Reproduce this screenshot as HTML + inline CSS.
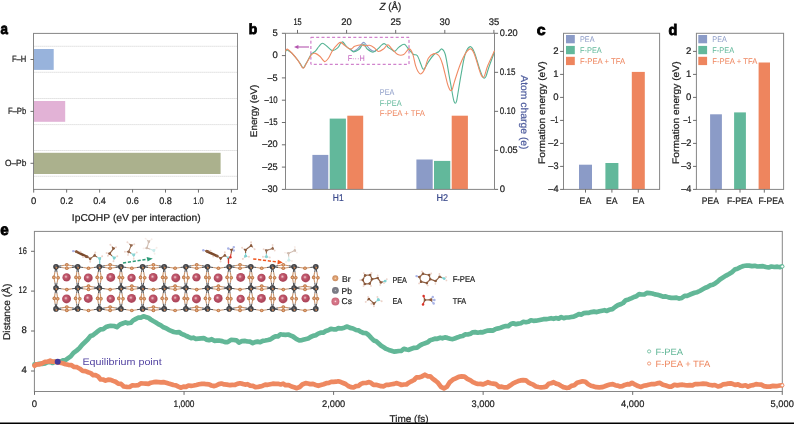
<!DOCTYPE html>
<html><head><meta charset="utf-8"><title>Figure</title>
<style>html,body{margin:0;padding:0;background:#fff;}svg{display:block;will-change:transform;text-rendering:geometricPrecision;font-family:"Liberation Sans",sans-serif;}</style>
</head><body>
<svg width="794" height="424" viewBox="0 0 794 424" font-family="Liberation Sans, sans-serif">
<rect x="0" y="0" width="794" height="424" fill="#fff"/>
<line x1="33.50" y1="46.30" x2="237.50" y2="46.30" stroke="#c4c4c4" stroke-width="0.7" stroke-dasharray="1.2,0.8"/>
<line x1="33.50" y1="72.30" x2="237.50" y2="72.30" stroke="#c4c4c4" stroke-width="0.7" stroke-dasharray="1.2,0.8"/>
<line x1="33.50" y1="98.50" x2="237.50" y2="98.50" stroke="#c4c4c4" stroke-width="0.7" stroke-dasharray="1.2,0.8"/>
<line x1="33.50" y1="124.60" x2="237.50" y2="124.60" stroke="#c4c4c4" stroke-width="0.7" stroke-dasharray="1.2,0.8"/>
<line x1="33.50" y1="150.50" x2="237.50" y2="150.50" stroke="#c4c4c4" stroke-width="0.7" stroke-dasharray="1.2,0.8"/>
<line x1="33.50" y1="176.30" x2="237.50" y2="176.30" stroke="#c4c4c4" stroke-width="0.7" stroke-dasharray="1.2,0.8"/>
<rect x="33.50" y="49.00" width="20.20" height="20.90" fill="#98b3dc" />
<rect x="33.50" y="101.00" width="31.70" height="20.80" fill="#e2b2d6" />
<rect x="33.50" y="152.80" width="187.10" height="21.20" fill="#abb18d" />
<rect x="33.50" y="33.40" width="204.00" height="156.00" fill="none" stroke="#868686" stroke-width="1"/>
<line x1="30.50" y1="59.50" x2="33.50" y2="59.50" stroke="#5c5c5c" stroke-width="0.9" />
<text x="26.30" y="62.30" font-size="9" text-anchor="end" fill="#222"  stroke="#222" stroke-width="0.22" textLength="14.4" lengthAdjust="spacingAndGlyphs">F–H</text>
<line x1="30.50" y1="111.40" x2="33.50" y2="111.40" stroke="#5c5c5c" stroke-width="0.9" />
<text x="26.30" y="114.20" font-size="9" text-anchor="end" fill="#222"  stroke="#222" stroke-width="0.22" textLength="18.4" lengthAdjust="spacingAndGlyphs">F–Pb</text>
<line x1="30.50" y1="163.30" x2="33.50" y2="163.30" stroke="#5c5c5c" stroke-width="0.9" />
<text x="26.30" y="166.10" font-size="9" text-anchor="end" fill="#222"  stroke="#222" stroke-width="0.22" textLength="21.4" lengthAdjust="spacingAndGlyphs">O–Pb</text>
<line x1="33.70" y1="189.40" x2="33.70" y2="192.60" stroke="#5c5c5c" stroke-width="0.9" />
<text x="33.70" y="203.50" font-size="9.5" text-anchor="middle" fill="#222"  stroke="#222" stroke-width="0.22">0</text>
<line x1="66.65" y1="189.40" x2="66.65" y2="192.60" stroke="#5c5c5c" stroke-width="0.9" />
<text x="66.65" y="203.50" font-size="9.5" text-anchor="middle" fill="#222"  stroke="#222" stroke-width="0.22" textLength="12.7" lengthAdjust="spacingAndGlyphs">0.2</text>
<line x1="99.60" y1="189.40" x2="99.60" y2="192.60" stroke="#5c5c5c" stroke-width="0.9" />
<text x="99.60" y="203.50" font-size="9.5" text-anchor="middle" fill="#222"  stroke="#222" stroke-width="0.22" textLength="12.7" lengthAdjust="spacingAndGlyphs">0.4</text>
<line x1="132.55" y1="189.40" x2="132.55" y2="192.60" stroke="#5c5c5c" stroke-width="0.9" />
<text x="132.55" y="203.50" font-size="9.5" text-anchor="middle" fill="#222"  stroke="#222" stroke-width="0.22" textLength="12.7" lengthAdjust="spacingAndGlyphs">0.6</text>
<line x1="165.50" y1="189.40" x2="165.50" y2="192.60" stroke="#5c5c5c" stroke-width="0.9" />
<text x="165.50" y="203.50" font-size="9.5" text-anchor="middle" fill="#222"  stroke="#222" stroke-width="0.22" textLength="12.7" lengthAdjust="spacingAndGlyphs">0.8</text>
<line x1="198.45" y1="189.40" x2="198.45" y2="192.60" stroke="#5c5c5c" stroke-width="0.9" />
<text x="198.45" y="203.50" font-size="9.5" text-anchor="middle" fill="#222"  stroke="#222" stroke-width="0.22" textLength="10.3" lengthAdjust="spacingAndGlyphs">1.0</text>
<line x1="231.40" y1="189.40" x2="231.40" y2="192.60" stroke="#5c5c5c" stroke-width="0.9" />
<text x="231.40" y="203.50" font-size="9.5" text-anchor="middle" fill="#222"  stroke="#222" stroke-width="0.22" textLength="10.3" lengthAdjust="spacingAndGlyphs">1.2</text>
<text x="136.20" y="220.60" font-size="10" text-anchor="middle" fill="#222"  stroke="#222" stroke-width="0.22" textLength="128.8" lengthAdjust="spacingAndGlyphs">IpCOHP (eV per interaction)</text>
<text x="0.50" y="34.30" font-size="15.5" text-anchor="start" fill="#000" font-weight="bold" stroke="#000" stroke-width="0.85" textLength="7.4" lengthAdjust="spacingAndGlyphs">a</text>
<rect x="312.40" y="154.90" width="15.90" height="34.50" fill="#8b9bc7" />
<rect x="329.70" y="118.60" width="16.20" height="70.80" fill="#62b89b" />
<rect x="347.30" y="115.70" width="15.90" height="73.70" fill="#ee855e" />
<rect x="416.40" y="159.50" width="16.30" height="29.90" fill="#8b9bc7" />
<rect x="434.00" y="160.90" width="16.30" height="28.50" fill="#62b89b" />
<rect x="451.70" y="115.70" width="16.20" height="73.70" fill="#ee855e" />
<line x1="285.50" y1="33.30" x2="285.50" y2="189.40" stroke="#868686" stroke-width="1" />
<line x1="494.50" y1="33.30" x2="494.50" y2="189.40" stroke="#868686" stroke-width="1" />
<line x1="285.50" y1="33.30" x2="494.50" y2="33.30" stroke="#868686" stroke-width="1" />
<line x1="285.50" y1="189.40" x2="494.50" y2="189.40" stroke="#868686" stroke-width="1" />
<line x1="281.90" y1="33.30" x2="285.50" y2="33.30" stroke="#5c5c5c" stroke-width="0.9" />
<text x="277.70" y="35.90" font-size="9.5" text-anchor="end" fill="#222"  stroke="#222" stroke-width="0.22">5</text>
<line x1="281.90" y1="55.60" x2="285.50" y2="55.60" stroke="#5c5c5c" stroke-width="0.9" />
<text x="277.70" y="58.20" font-size="9.5" text-anchor="end" fill="#222"  stroke="#222" stroke-width="0.22">0</text>
<line x1="281.90" y1="77.90" x2="285.50" y2="77.90" stroke="#5c5c5c" stroke-width="0.9" />
<text x="277.70" y="80.50" font-size="9.5" text-anchor="end" fill="#222"  stroke="#222" stroke-width="0.22" textLength="10.2" lengthAdjust="spacingAndGlyphs">–5</text>
<line x1="281.90" y1="100.20" x2="285.50" y2="100.20" stroke="#5c5c5c" stroke-width="0.9" />
<text x="277.70" y="102.80" font-size="9.5" text-anchor="end" fill="#222"  stroke="#222" stroke-width="0.22" textLength="13.1" lengthAdjust="spacingAndGlyphs">–10</text>
<line x1="281.90" y1="122.50" x2="285.50" y2="122.50" stroke="#5c5c5c" stroke-width="0.9" />
<text x="277.70" y="125.10" font-size="9.5" text-anchor="end" fill="#222"  stroke="#222" stroke-width="0.22" textLength="13.1" lengthAdjust="spacingAndGlyphs">–15</text>
<line x1="281.90" y1="144.80" x2="285.50" y2="144.80" stroke="#5c5c5c" stroke-width="0.9" />
<text x="277.70" y="147.40" font-size="9.5" text-anchor="end" fill="#222"  stroke="#222" stroke-width="0.22" textLength="15.4" lengthAdjust="spacingAndGlyphs">–20</text>
<line x1="281.90" y1="167.10" x2="285.50" y2="167.10" stroke="#5c5c5c" stroke-width="0.9" />
<text x="277.70" y="169.70" font-size="9.5" text-anchor="end" fill="#222"  stroke="#222" stroke-width="0.22" textLength="15.4" lengthAdjust="spacingAndGlyphs">–25</text>
<line x1="281.90" y1="189.40" x2="285.50" y2="189.40" stroke="#5c5c5c" stroke-width="0.9" />
<text x="277.70" y="192.00" font-size="9.5" text-anchor="end" fill="#222"  stroke="#222" stroke-width="0.22" textLength="15.4" lengthAdjust="spacingAndGlyphs">–30</text>
<line x1="494.50" y1="33.30" x2="498.10" y2="33.30" stroke="#5c5c5c" stroke-width="0.9" />
<text x="499.80" y="36.20" font-size="9.5" text-anchor="start" fill="#222"  stroke="#222" stroke-width="0.22" textLength="17.9" lengthAdjust="spacingAndGlyphs">0.20</text>
<line x1="494.50" y1="72.33" x2="498.10" y2="72.33" stroke="#5c5c5c" stroke-width="0.9" />
<text x="499.80" y="75.23" font-size="9.5" text-anchor="start" fill="#222"  stroke="#222" stroke-width="0.22" textLength="15.6" lengthAdjust="spacingAndGlyphs">0.15</text>
<line x1="494.50" y1="111.35" x2="498.10" y2="111.35" stroke="#5c5c5c" stroke-width="0.9" />
<text x="499.80" y="114.25" font-size="9.5" text-anchor="start" fill="#222"  stroke="#222" stroke-width="0.22" textLength="15.6" lengthAdjust="spacingAndGlyphs">0.10</text>
<line x1="494.50" y1="150.38" x2="498.10" y2="150.38" stroke="#5c5c5c" stroke-width="0.9" />
<text x="499.80" y="153.27" font-size="9.5" text-anchor="start" fill="#222"  stroke="#222" stroke-width="0.22" textLength="17.9" lengthAdjust="spacingAndGlyphs">0.05</text>
<line x1="494.50" y1="189.40" x2="498.10" y2="189.40" stroke="#5c5c5c" stroke-width="0.9" />
<text x="499.80" y="192.30" font-size="9.5" text-anchor="start" fill="#222"  stroke="#222" stroke-width="0.22">0</text>
<line x1="297.50" y1="29.90" x2="297.50" y2="33.30" stroke="#5c5c5c" stroke-width="0.9" />
<text x="297.50" y="24.80" font-size="9.5" text-anchor="middle" fill="#222"  stroke="#222" stroke-width="0.22" textLength="8.2" lengthAdjust="spacingAndGlyphs">15</text>
<line x1="346.60" y1="29.90" x2="346.60" y2="33.30" stroke="#5c5c5c" stroke-width="0.9" />
<text x="346.60" y="24.80" font-size="9.5" text-anchor="middle" fill="#222"  stroke="#222" stroke-width="0.22" textLength="10.5" lengthAdjust="spacingAndGlyphs">20</text>
<line x1="395.70" y1="29.90" x2="395.70" y2="33.30" stroke="#5c5c5c" stroke-width="0.9" />
<text x="395.70" y="24.80" font-size="9.5" text-anchor="middle" fill="#222"  stroke="#222" stroke-width="0.22" textLength="10.5" lengthAdjust="spacingAndGlyphs">25</text>
<line x1="444.80" y1="29.90" x2="444.80" y2="33.30" stroke="#5c5c5c" stroke-width="0.9" />
<text x="444.80" y="24.80" font-size="9.5" text-anchor="middle" fill="#222"  stroke="#222" stroke-width="0.22" textLength="10.5" lengthAdjust="spacingAndGlyphs">30</text>
<line x1="493.90" y1="29.90" x2="493.90" y2="33.30" stroke="#5c5c5c" stroke-width="0.9" />
<text x="493.90" y="24.80" font-size="9.5" text-anchor="middle" fill="#222"  stroke="#222" stroke-width="0.22" textLength="10.5" lengthAdjust="spacingAndGlyphs">35</text>
<text x="390.4" y="10.1" font-size="10.2" text-anchor="middle" fill="#222" stroke="#222" stroke-width="0.22" textLength="21.7" lengthAdjust="spacingAndGlyphs"><tspan font-style="italic">Z</tspan> (Å)</text>
<text transform="translate(257.20,110.90) rotate(-90)" font-size="9.6" text-anchor="middle" fill="#222" stroke="#222" stroke-width="0.22" textLength="52.5" lengthAdjust="spacingAndGlyphs">Energy (eV)</text>
<text transform="translate(521.00,112.40) rotate(90)" font-size="10" text-anchor="middle" fill="#4f5d9e" stroke="#4f5d9e" stroke-width="0.22" textLength="74.3" lengthAdjust="spacingAndGlyphs">Atom charge (e)</text>
<text x="338.20" y="200.60" font-size="9.8" text-anchor="middle" fill="#3b4a8c"  stroke="#3b4a8c" stroke-width="0.22" textLength="10.8" lengthAdjust="spacingAndGlyphs">H1</text>
<text x="442.30" y="200.60" font-size="9.8" text-anchor="middle" fill="#3b4a8c"  stroke="#3b4a8c" stroke-width="0.22" textLength="11.6" lengthAdjust="spacingAndGlyphs">H2</text>
<text x="379.80" y="94.90" font-size="8.5" text-anchor="start" fill="#8b9bc7"  textLength="14.5" lengthAdjust="spacingAndGlyphs">PEA</text>
<text x="379.80" y="105.60" font-size="8.5" text-anchor="start" fill="#62b89b"  textLength="21.8" lengthAdjust="spacingAndGlyphs">F-PEA</text>
<text x="379.80" y="116.30" font-size="8.5" text-anchor="start" fill="#ee855e"  textLength="45.1" lengthAdjust="spacingAndGlyphs">F-PEA + TFA</text>
<text x="248.80" y="34.30" font-size="14.6" text-anchor="start" fill="#000" font-weight="bold" stroke="#000" stroke-width="0.85" textLength="8.5" lengthAdjust="spacingAndGlyphs">b</text>
<rect x="310.9" y="37.3" width="98.1" height="27.0" fill="none" stroke="#c565c0" stroke-width="1" stroke-dasharray="3,2.3"/>
<line x1="296.00" y1="47.00" x2="309.00" y2="47.00" stroke="#b457b0" stroke-width="1.1" />
<path d="M294.0,47.0 L298.4,44.9 L298.4,49.1 Z" fill="#b457b0"/>
<text x="356.20" y="60.60" font-size="8.2" text-anchor="middle" fill="#c565c0"  textLength="17.1" lengthAdjust="spacingAndGlyphs">F···H</text>
<path d="M350.80,49.60 C351.20,49.87 352.25,51.17 353.20,51.20 C354.15,51.23 355.28,50.75 356.50,49.80 C357.72,48.85 359.32,46.73 360.50,45.50 C361.68,44.27 362.60,42.45 363.60,42.40 C364.60,42.35 365.43,44.07 366.50,45.20 C367.57,46.33 368.72,48.17 370.00,49.20 C371.28,50.23 373.03,51.33 374.20,51.40 C375.37,51.47 376.53,49.90 377.00,49.60" fill="none" stroke="#8b9bc7" stroke-width="1.1"/>
<path d="M285.50,51.20 C285.75,51.00 286.33,49.97 287.00,50.00 C287.67,50.03 288.70,50.87 289.50,51.40 C290.30,51.93 290.43,51.77 291.80,53.20 C293.17,54.63 296.20,58.10 297.70,60.00 C299.20,61.90 300.07,63.45 300.80,64.60 C301.53,65.75 301.70,66.37 302.10,66.90 C302.50,67.43 302.83,67.80 303.20,67.80 C303.57,67.80 303.92,67.43 304.30,66.90 C304.68,66.37 304.83,65.83 305.50,64.60 C306.17,63.37 307.33,61.23 308.30,59.50 C309.27,57.77 310.12,55.58 311.30,54.20 C312.48,52.82 314.13,52.48 315.40,51.20 C316.67,49.92 317.72,47.83 318.90,46.50 C320.08,45.17 321.12,43.20 322.50,43.20 C323.88,43.20 325.53,45.27 327.20,46.50 C328.87,47.73 330.73,50.40 332.50,50.60 C334.27,50.80 336.52,48.80 337.80,47.70 C339.08,46.60 339.40,44.97 340.20,44.00 C341.00,43.03 341.80,41.80 342.60,41.90 C343.40,42.00 344.25,43.73 345.00,44.60 C345.75,45.47 346.13,46.25 347.10,47.10 C348.07,47.95 349.72,48.90 350.80,49.70 C351.88,50.50 352.25,51.93 353.60,51.90 C354.95,51.87 357.60,50.45 358.90,49.50 C360.20,48.55 360.62,47.07 361.40,46.20 C362.18,45.33 362.90,44.27 363.60,44.30 C364.30,44.33 365.02,45.63 365.60,46.40 C366.18,47.17 365.87,47.93 367.10,48.90 C368.33,49.87 371.22,52.20 373.00,52.20 C374.78,52.20 376.38,50.07 377.80,48.90 C379.22,47.73 380.43,46.08 381.50,45.20 C382.57,44.32 383.35,43.57 384.20,43.60 C385.05,43.63 385.90,44.72 386.60,45.40 C387.30,46.08 387.52,46.97 388.40,47.70 C389.28,48.43 390.82,49.22 391.90,49.80 C392.98,50.38 393.72,51.65 394.90,51.20 C396.08,50.75 397.43,48.25 399.00,47.10 C400.57,45.95 402.73,44.00 404.30,44.30 C405.87,44.60 406.92,47.23 408.40,48.90 C409.88,50.57 411.73,53.20 413.20,54.30 C414.67,55.40 415.93,53.88 417.20,55.50 C418.47,57.12 419.95,61.93 420.80,64.00 C421.65,66.07 421.83,67.03 422.30,67.90 C422.77,68.77 423.15,69.20 423.60,69.20 C424.05,69.20 424.22,69.08 425.00,67.90 C425.78,66.72 426.80,64.33 428.30,62.10 C429.80,59.87 432.27,56.23 434.00,54.50 C435.73,52.77 437.38,52.63 438.70,51.70 C440.02,50.77 440.80,48.43 441.90,48.90 C443.00,49.37 444.10,50.10 445.30,54.50 C446.50,58.90 447.85,68.38 449.10,75.30 C450.35,82.22 451.98,91.67 452.80,96.00 C453.62,100.33 453.58,100.10 454.00,101.30 C454.42,102.50 454.88,103.20 455.30,103.20 C455.72,103.20 456.13,102.50 456.50,101.30 C456.87,100.10 456.70,100.65 457.50,96.00 C458.30,91.35 460.03,80.32 461.30,73.40 C462.57,66.48 463.62,58.97 465.10,54.50 C466.58,50.03 468.63,46.92 470.20,46.60 C471.77,46.28 473.00,49.08 474.50,52.60 C476.00,56.12 477.87,63.73 479.20,67.70 C480.53,71.67 481.65,74.67 482.50,76.40 C483.35,78.13 483.72,78.10 484.30,78.10 C484.88,78.10 485.27,78.13 486.00,76.40 C486.73,74.67 487.28,71.82 488.70,67.70 C490.12,63.58 493.53,54.37 494.50,51.70" fill="none" stroke="#55b394" stroke-width="1.1"/>
<path d="M285.50,51.30 C285.80,50.93 286.25,48.82 287.30,49.10 C288.35,49.38 290.07,51.17 291.80,53.00 C293.53,54.83 296.20,58.10 297.70,60.10 C299.20,62.10 300.07,63.80 300.80,65.00 C301.53,66.20 301.70,66.75 302.10,67.30 C302.50,67.85 302.83,68.30 303.20,68.30 C303.57,68.30 303.92,67.85 304.30,67.30 C304.68,66.75 304.83,66.20 305.50,65.00 C306.17,63.80 307.33,61.80 308.30,60.10 C309.27,58.40 310.12,55.92 311.30,54.80 C312.48,53.68 313.93,53.12 315.40,53.40 C316.87,53.68 318.57,55.13 320.10,56.50 C321.63,57.87 323.22,61.30 324.60,61.60 C325.98,61.90 327.08,60.13 328.40,58.30 C329.72,56.47 330.93,52.95 332.50,50.60 C334.07,48.25 336.42,45.57 337.80,44.20 C339.18,42.83 339.62,42.17 340.80,42.40 C341.98,42.63 343.27,44.48 344.90,45.60 C346.53,46.72 348.97,48.98 350.60,49.10 C352.23,49.22 352.93,47.03 354.70,46.30 C356.47,45.57 359.52,44.77 361.20,44.70 C362.88,44.63 363.42,45.80 364.80,45.90 C366.18,46.00 367.93,45.00 369.50,45.30 C371.07,45.60 372.73,46.67 374.20,47.70 C375.67,48.73 376.72,51.30 378.30,51.50 C379.88,51.70 382.12,50.03 383.70,48.90 C385.28,47.77 386.43,44.70 387.80,44.70 C389.17,44.70 390.23,47.27 391.90,48.90 C393.57,50.53 395.83,53.57 397.80,54.50 C399.77,55.43 401.83,55.43 403.70,54.50 C405.57,53.57 407.52,49.05 409.00,48.90 C410.48,48.75 411.52,50.85 412.60,53.60 C413.68,56.35 414.60,62.42 415.50,65.40 C416.40,68.38 417.12,70.07 418.00,71.50 C418.88,72.93 419.72,74.32 420.80,74.00 C421.88,73.68 423.25,72.22 424.50,69.60 C425.75,66.98 426.72,60.97 428.30,58.30 C429.88,55.63 432.27,54.07 434.00,53.60 C435.73,53.13 437.28,53.77 438.70,55.50 C440.12,57.23 441.08,59.45 442.50,64.00 C443.92,68.55 446.05,78.63 447.20,82.80 C448.35,86.97 448.78,87.67 449.40,89.00 C450.02,90.33 450.40,90.80 450.90,90.80 C451.40,90.80 451.77,90.65 452.40,89.00 C453.03,87.35 453.37,85.07 454.70,80.90 C456.03,76.73 458.52,68.72 460.40,64.00 C462.28,59.28 464.27,55.12 466.00,52.60 C467.73,50.08 469.38,48.58 470.80,48.90 C472.22,49.22 473.10,51.05 474.50,54.50 C475.90,57.95 478.05,66.08 479.20,69.60 C480.35,73.12 480.77,74.33 481.40,75.60 C482.03,76.87 482.47,77.20 483.00,77.20 C483.53,77.20 483.82,77.50 484.60,75.60 C485.38,73.70 486.05,69.93 487.70,65.80 C489.35,61.67 493.37,53.30 494.50,50.80" fill="none" stroke="#f08a63" stroke-width="1.1"/>
<rect x="579.00" y="164.70" width="13.00" height="24.70" fill="#8b9bc7" />
<rect x="605.40" y="163.00" width="13.00" height="26.40" fill="#62b89b" />
<rect x="631.80" y="71.90" width="13.00" height="117.50" fill="#ee855e" />
<rect x="563.50" y="33.30" width="96.10" height="156.10" fill="none" stroke="#868686" stroke-width="1"/>
<line x1="560.10" y1="189.40" x2="563.50" y2="189.40" stroke="#5c5c5c" stroke-width="0.9" />
<text x="558.50" y="192.30" font-size="9.5" text-anchor="end" fill="#222"  stroke="#222" stroke-width="0.22" textLength="10.2" lengthAdjust="spacingAndGlyphs">–4</text>
<line x1="560.10" y1="166.40" x2="563.50" y2="166.40" stroke="#5c5c5c" stroke-width="0.9" />
<text x="558.50" y="169.30" font-size="9.5" text-anchor="end" fill="#222"  stroke="#222" stroke-width="0.22" textLength="10.2" lengthAdjust="spacingAndGlyphs">–3</text>
<line x1="560.10" y1="143.40" x2="563.50" y2="143.40" stroke="#5c5c5c" stroke-width="0.9" />
<text x="558.50" y="146.30" font-size="9.5" text-anchor="end" fill="#222"  stroke="#222" stroke-width="0.22" textLength="10.2" lengthAdjust="spacingAndGlyphs">–2</text>
<line x1="560.10" y1="120.40" x2="563.50" y2="120.40" stroke="#5c5c5c" stroke-width="0.9" />
<text x="558.50" y="123.30" font-size="9.5" text-anchor="end" fill="#222"  stroke="#222" stroke-width="0.22" textLength="7.8" lengthAdjust="spacingAndGlyphs">–1</text>
<line x1="560.10" y1="97.40" x2="563.50" y2="97.40" stroke="#5c5c5c" stroke-width="0.9" />
<text x="558.50" y="100.30" font-size="9.5" text-anchor="end" fill="#222"  stroke="#222" stroke-width="0.22">0</text>
<line x1="560.10" y1="74.40" x2="563.50" y2="74.40" stroke="#5c5c5c" stroke-width="0.9" />
<text x="558.50" y="77.30" font-size="9.5" text-anchor="end" fill="#222"  stroke="#222" stroke-width="0.22">1</text>
<line x1="560.10" y1="51.40" x2="563.50" y2="51.40" stroke="#5c5c5c" stroke-width="0.9" />
<text x="558.50" y="54.30" font-size="9.5" text-anchor="end" fill="#222"  stroke="#222" stroke-width="0.22">2</text>
<line x1="585.50" y1="189.40" x2="585.50" y2="192.60" stroke="#5c5c5c" stroke-width="0.9" />
<text x="585.40" y="204.20" font-size="9.4" text-anchor="middle" fill="#222"  stroke="#222" stroke-width="0.22" textLength="11.6" lengthAdjust="spacingAndGlyphs">EA</text>
<line x1="611.90" y1="189.40" x2="611.90" y2="192.60" stroke="#5c5c5c" stroke-width="0.9" />
<text x="611.80" y="204.20" font-size="9.4" text-anchor="middle" fill="#222"  stroke="#222" stroke-width="0.22" textLength="11.6" lengthAdjust="spacingAndGlyphs">EA</text>
<line x1="638.30" y1="189.40" x2="638.30" y2="192.60" stroke="#5c5c5c" stroke-width="0.9" />
<text x="638.40" y="204.20" font-size="9.4" text-anchor="middle" fill="#222"  stroke="#222" stroke-width="0.22" textLength="11.6" lengthAdjust="spacingAndGlyphs">EA</text>
<text transform="translate(545.40,112.70) rotate(-90)" font-size="9.5" text-anchor="middle" fill="#222" stroke="#222" stroke-width="0.22" textLength="102.5" lengthAdjust="spacingAndGlyphs">Formation energy (eV)</text>
<rect x="566.00" y="35.00" width="8.80" height="8.30" fill="#8b9bc7" />
<text x="580.00" y="42.10" font-size="8.2" text-anchor="start" fill="#8b9bc7"  textLength="14.5" lengthAdjust="spacingAndGlyphs">PEA</text>
<rect x="566.00" y="45.90" width="8.80" height="8.30" fill="#62b89b" />
<text x="580.00" y="53.00" font-size="8.2" text-anchor="start" fill="#62b89b"  textLength="21.8" lengthAdjust="spacingAndGlyphs">F-PEA</text>
<rect x="566.00" y="56.80" width="8.80" height="8.30" fill="#ee855e" />
<text x="580.00" y="63.90" font-size="8.2" text-anchor="start" fill="#ee855e"  textLength="45.1" lengthAdjust="spacingAndGlyphs">F-PEA + TFA</text>
<text x="536.70" y="34.60" font-size="15.2" text-anchor="start" fill="#000" font-weight="bold" stroke="#000" stroke-width="0.85" textLength="8.8" lengthAdjust="spacingAndGlyphs">c</text>
<rect x="710.10" y="114.30" width="11.80" height="75.10" fill="#8b9bc7" />
<rect x="734.10" y="112.40" width="11.80" height="77.00" fill="#62b89b" />
<rect x="758.60" y="62.50" width="11.40" height="126.90" fill="#ee855e" />
<rect x="696.40" y="33.30" width="87.20" height="156.10" fill="none" stroke="#868686" stroke-width="1"/>
<line x1="693.00" y1="189.40" x2="696.40" y2="189.40" stroke="#5c5c5c" stroke-width="0.9" />
<text x="691.40" y="192.30" font-size="9.5" text-anchor="end" fill="#222"  stroke="#222" stroke-width="0.22" textLength="10.2" lengthAdjust="spacingAndGlyphs">–4</text>
<line x1="693.00" y1="166.40" x2="696.40" y2="166.40" stroke="#5c5c5c" stroke-width="0.9" />
<text x="691.40" y="169.30" font-size="9.5" text-anchor="end" fill="#222"  stroke="#222" stroke-width="0.22" textLength="10.2" lengthAdjust="spacingAndGlyphs">–3</text>
<line x1="693.00" y1="143.40" x2="696.40" y2="143.40" stroke="#5c5c5c" stroke-width="0.9" />
<text x="691.40" y="146.30" font-size="9.5" text-anchor="end" fill="#222"  stroke="#222" stroke-width="0.22" textLength="10.2" lengthAdjust="spacingAndGlyphs">–2</text>
<line x1="693.00" y1="120.40" x2="696.40" y2="120.40" stroke="#5c5c5c" stroke-width="0.9" />
<text x="691.40" y="123.30" font-size="9.5" text-anchor="end" fill="#222"  stroke="#222" stroke-width="0.22" textLength="7.8" lengthAdjust="spacingAndGlyphs">–1</text>
<line x1="693.00" y1="97.40" x2="696.40" y2="97.40" stroke="#5c5c5c" stroke-width="0.9" />
<text x="691.40" y="100.30" font-size="9.5" text-anchor="end" fill="#222"  stroke="#222" stroke-width="0.22">0</text>
<line x1="693.00" y1="74.40" x2="696.40" y2="74.40" stroke="#5c5c5c" stroke-width="0.9" />
<text x="691.40" y="77.30" font-size="9.5" text-anchor="end" fill="#222"  stroke="#222" stroke-width="0.22">1</text>
<line x1="693.00" y1="51.40" x2="696.40" y2="51.40" stroke="#5c5c5c" stroke-width="0.9" />
<text x="691.40" y="54.30" font-size="9.5" text-anchor="end" fill="#222"  stroke="#222" stroke-width="0.22">2</text>
<line x1="716.00" y1="189.40" x2="716.00" y2="192.60" stroke="#5c5c5c" stroke-width="0.9" />
<text x="710.30" y="204.20" font-size="9.4" text-anchor="middle" fill="#222"  stroke="#222" stroke-width="0.22" textLength="17.0" lengthAdjust="spacingAndGlyphs">PEA</text>
<line x1="740.00" y1="189.40" x2="740.00" y2="192.60" stroke="#5c5c5c" stroke-width="0.9" />
<text x="739.80" y="204.20" font-size="9.4" text-anchor="middle" fill="#222"  stroke="#222" stroke-width="0.22" textLength="25.5" lengthAdjust="spacingAndGlyphs">F-PEA</text>
<line x1="764.30" y1="189.40" x2="764.30" y2="192.60" stroke="#5c5c5c" stroke-width="0.9" />
<text x="771.00" y="204.20" font-size="9.4" text-anchor="middle" fill="#222"  stroke="#222" stroke-width="0.22" textLength="25.2" lengthAdjust="spacingAndGlyphs">F-PEA</text>
<text transform="translate(678.80,112.70) rotate(-90)" font-size="9.5" text-anchor="middle" fill="#222" stroke="#222" stroke-width="0.22" textLength="102.5" lengthAdjust="spacingAndGlyphs">Formation energy (eV)</text>
<rect x="698.30" y="35.00" width="8.80" height="8.30" fill="#8b9bc7" />
<text x="712.30" y="42.10" font-size="8.2" text-anchor="start" fill="#8b9bc7"  textLength="14.5" lengthAdjust="spacingAndGlyphs">PEA</text>
<rect x="698.30" y="45.90" width="8.80" height="8.30" fill="#62b89b" />
<text x="712.30" y="53.00" font-size="8.2" text-anchor="start" fill="#62b89b"  textLength="21.8" lengthAdjust="spacingAndGlyphs">F-PEA</text>
<rect x="698.30" y="56.80" width="8.80" height="8.30" fill="#ee855e" />
<text x="712.30" y="63.90" font-size="8.2" text-anchor="start" fill="#ee855e"  textLength="45.1" lengthAdjust="spacingAndGlyphs">F-PEA + TFA</text>
<text x="668.60" y="34.60" font-size="15.2" text-anchor="start" fill="#000" font-weight="bold" stroke="#000" stroke-width="0.85" textLength="8.8" lengthAdjust="spacingAndGlyphs">d</text>
<rect x="34.40" y="231.40" width="747.90" height="160.10" fill="none" stroke="#868686" stroke-width="1"/>
<line x1="31.00" y1="251.30" x2="34.40" y2="251.30" stroke="#5c5c5c" stroke-width="0.9" />
<text x="26.80" y="253.60" font-size="9.5" text-anchor="end" fill="#222"  stroke="#222" stroke-width="0.22" textLength="8.2" lengthAdjust="spacingAndGlyphs">16</text>
<line x1="31.00" y1="291.10" x2="34.40" y2="291.10" stroke="#5c5c5c" stroke-width="0.9" />
<text x="26.80" y="293.40" font-size="9.5" text-anchor="end" fill="#222"  stroke="#222" stroke-width="0.22" textLength="8.2" lengthAdjust="spacingAndGlyphs">12</text>
<line x1="31.00" y1="331.00" x2="34.40" y2="331.00" stroke="#5c5c5c" stroke-width="0.9" />
<text x="26.80" y="333.30" font-size="9.5" text-anchor="end" fill="#222"  stroke="#222" stroke-width="0.22">8</text>
<line x1="31.00" y1="371.00" x2="34.40" y2="371.00" stroke="#5c5c5c" stroke-width="0.9" />
<text x="26.80" y="373.30" font-size="9.5" text-anchor="end" fill="#222"  stroke="#222" stroke-width="0.22">4</text>
<line x1="34.50" y1="391.50" x2="34.50" y2="394.90" stroke="#5c5c5c" stroke-width="0.9" />
<text x="34.50" y="406.60" font-size="9.5" text-anchor="middle" fill="#222"  stroke="#222" stroke-width="0.22">0</text>
<line x1="184.05" y1="391.50" x2="184.05" y2="394.90" stroke="#5c5c5c" stroke-width="0.9" />
<text x="184.05" y="406.60" font-size="9.5" text-anchor="middle" fill="#222"  stroke="#222" stroke-width="0.22" textLength="20.9" lengthAdjust="spacingAndGlyphs">1,000</text>
<line x1="333.60" y1="391.50" x2="333.60" y2="394.90" stroke="#5c5c5c" stroke-width="0.9" />
<text x="333.60" y="406.60" font-size="9.5" text-anchor="middle" fill="#222"  stroke="#222" stroke-width="0.22" textLength="23.2" lengthAdjust="spacingAndGlyphs">2,000</text>
<line x1="483.15" y1="391.50" x2="483.15" y2="394.90" stroke="#5c5c5c" stroke-width="0.9" />
<text x="483.15" y="406.60" font-size="9.5" text-anchor="middle" fill="#222"  stroke="#222" stroke-width="0.22" textLength="23.2" lengthAdjust="spacingAndGlyphs">3,000</text>
<line x1="632.70" y1="391.50" x2="632.70" y2="394.90" stroke="#5c5c5c" stroke-width="0.9" />
<text x="632.70" y="406.60" font-size="9.5" text-anchor="middle" fill="#222"  stroke="#222" stroke-width="0.22" textLength="23.2" lengthAdjust="spacingAndGlyphs">4,000</text>
<line x1="782.25" y1="391.50" x2="782.25" y2="394.90" stroke="#5c5c5c" stroke-width="0.9" />
<text x="793.80" y="406.60" font-size="9.5" text-anchor="end" fill="#222"  stroke="#222" stroke-width="0.22" textLength="23.2" lengthAdjust="spacingAndGlyphs">5,000</text>
<text x="409.00" y="421.80" font-size="9.7" text-anchor="middle" fill="#222"  stroke="#222" stroke-width="0.22" textLength="39.0" lengthAdjust="spacingAndGlyphs">Time (fs)</text>
<text transform="translate(10.00,311.80) rotate(-90)" font-size="9.8" text-anchor="middle" fill="#222" stroke="#222" stroke-width="0.22" textLength="56.5" lengthAdjust="spacingAndGlyphs">Distance (Å)</text>
<text x="0.20" y="234.70" font-size="15.8" text-anchor="start" fill="#000" font-weight="bold" stroke="#000" stroke-width="0.85" textLength="8.5" lengthAdjust="spacingAndGlyphs">e</text>
<path d="M34.5,364.3 L36.4,364.5 L39.0,363.8 L42.1,363.8 L45.1,363.4 L47.5,362.2 L50.1,361.9 L52.7,363.0 L55.3,361.7 L57.7,361.3 L60.4,361.9 L63.0,360.4 L65.4,360.1 L67.8,358.4 L70.7,356.4 L73.5,352.9 L76.6,350.6 L79.3,348.3 L82.2,344.7 L85.1,342.0 L87.9,339.3 L90.5,336.1 L92.9,335.3 L95.3,333.3 L98.0,331.2 L100.5,329.3 L103.2,329.1 L105.9,327.1 L108.4,326.3 L110.6,325.8 L114.1,326.0 L116.9,327.1 L120.0,324.5 L123.2,323.2 L125.5,322.4 L127.8,323.3 L130.8,322.8 L133.0,320.5 L135.5,319.1 L138.1,317.7 L140.8,317.6 L143.4,316.3 L145.9,317.1 L148.3,317.7 L150.7,319.5 L153.2,321.0 L155.9,322.5 L158.3,324.1 L160.9,325.4 L163.5,327.3 L166.1,328.2 L168.7,329.8 L171.1,330.8 L173.9,332.0 L176.6,332.3 L179.2,332.1 L181.5,333.9 L183.7,334.7 L186.3,336.0 L188.3,336.8 L191.2,338.1 L193.3,337.7 L195.8,338.9 L198.4,338.6 L201.2,338.3 L203.8,338.1 L206.3,339.6 L209.0,340.2 L211.7,339.2 L214.3,340.8 L216.7,340.6 L218.9,340.5 L222.2,341.1 L225.0,342.1 L227.6,342.2 L231.0,339.8 L233.9,340.0 L236.4,340.3 L238.9,342.6 L241.9,341.1 L245.2,340.9 L247.5,341.5 L250.0,341.7 L252.7,343.1 L255.0,342.1 L257.6,341.6 L260.2,342.2 L262.8,340.9 L265.3,340.5 L267.9,340.0 L270.4,339.4 L272.9,337.7 L275.4,336.4 L278.0,336.4 L280.5,334.3 L283.0,334.7 L285.6,334.8 L288.2,334.5 L290.8,335.6 L293.0,336.5 L296.2,338.9 L299.3,340.5 L302.0,340.1 L305.1,339.2 L308.2,338.5 L310.6,337.0 L313.1,335.9 L315.7,335.3 L318.2,333.6 L320.7,332.7 L323.2,332.7 L325.8,331.0 L328.3,330.3 L330.9,328.9 L333.4,329.3 L336.0,329.4 L338.4,328.2 L341.4,328.5 L344.3,327.7 L347.2,326.5 L350.1,327.9 L353.0,328.5 L356.0,330.0 L358.4,330.3 L361.0,331.9 L363.5,333.0 L366.1,333.2 L368.6,335.0 L371.2,337.9 L373.7,340.4 L376.2,341.2 L378.7,343.5 L381.2,345.8 L383.7,347.3 L386.2,348.9 L388.8,349.9 L391.4,350.7 L393.9,351.6 L396.3,351.3 L399.0,351.0 L401.5,350.8 L403.9,348.8 L406.4,349.5 L408.8,349.8 L411.4,348.8 L414.2,347.8 L417.1,347.6 L420.1,345.4 L422.5,344.1 L425.1,343.2 L427.6,342.3 L430.2,340.2 L432.6,339.5 L434.9,338.7 L437.3,338.8 L440.2,337.7 L442.4,338.3 L444.9,337.4 L447.4,337.9 L450.1,338.7 L452.7,339.1 L455.3,338.2 L457.8,337.3 L460.2,336.3 L462.6,336.0 L465.1,334.4 L467.7,334.5 L470.5,333.7 L472.8,332.3 L475.2,332.1 L477.7,332.7 L480.2,332.2 L482.8,332.3 L485.5,331.3 L488.0,330.6 L490.6,330.4 L493.1,330.6 L495.6,329.0 L498.2,328.4 L500.7,327.7 L503.2,326.8 L505.8,326.0 L508.3,326.1 L510.8,324.1 L513.3,323.3 L515.8,324.2 L518.3,323.6 L520.9,323.2 L523.4,321.8 L525.9,322.2 L528.4,321.8 L530.9,320.3 L533.4,320.8 L535.9,320.7 L538.5,320.2 L541.0,319.7 L543.5,319.2 L546.1,319.1 L548.6,318.7 L551.1,318.2 L553.6,318.8 L556.1,318.0 L558.6,318.6 L561.2,317.1 L563.7,318.1 L566.2,317.5 L568.7,317.5 L571.2,317.0 L573.7,316.6 L576.3,315.5 L578.9,314.1 L581.5,314.6 L584.0,313.1 L586.5,312.8 L589.0,312.8 L591.4,312.1 L594.1,311.6 L596.8,312.1 L599.5,311.3 L602.1,310.7 L604.6,310.2 L606.9,310.9 L609.1,309.8 L612.4,309.1 L615.1,307.0 L617.7,305.3 L620.4,304.3 L623.1,303.0 L625.8,300.2 L628.6,299.4 L631.7,298.1 L634.0,297.0 L636.5,296.2 L639.1,294.2 L641.8,294.5 L644.3,294.4 L646.8,292.9 L649.6,293.2 L652.3,293.5 L654.9,294.4 L657.5,294.8 L660.0,295.5 L662.9,296.7 L665.7,296.4 L668.5,297.4 L671.4,297.9 L673.9,297.9 L676.5,297.6 L679.1,298.6 L681.8,297.9 L684.6,295.9 L687.0,295.9 L689.5,294.8 L692.0,293.8 L694.6,292.8 L697.2,292.2 L699.7,291.0 L702.3,289.5 L704.9,288.0 L707.5,287.0 L710.0,285.4 L712.5,284.8 L714.8,283.7 L717.9,281.3 L720.7,278.9 L723.4,277.2 L726.1,275.6 L729.0,274.0 L731.9,272.2 L734.7,269.6 L737.4,268.8 L740.5,267.1 L743.5,266.0 L746.8,265.5 L749.2,265.6 L751.9,266.1 L754.7,265.8 L757.4,266.5 L760.0,266.3 L763.0,266.2 L765.9,267.0 L768.6,267.4 L771.4,266.5 L774.4,267.0 L777.4,266.7 L780.1,267.2 L782.0,266.4" fill="none" stroke="#62b797" stroke-width="4.7" stroke-linejoin="round" stroke-linecap="round"/>
<path d="M34.5,365.7 L36.5,364.3 L39.3,364.3 L42.4,363.3 L45.1,361.8 L47.8,361.6 L50.1,360.7 L52.7,361.7 L55.0,361.7 L57.5,362.4 L60.0,362.8 L62.7,363.3 L65.5,364.2 L68.3,364.8 L71.2,365.1 L74.1,366.9 L77.0,367.2 L79.8,368.7 L82.7,371.0 L85.4,371.1 L88.1,372.2 L90.7,373.1 L93.2,375.2 L95.5,375.1 L98.2,376.5 L100.6,379.5 L103.0,379.5 L105.5,380.6 L108.1,379.7 L110.6,379.8 L113.1,380.9 L115.6,381.8 L118.2,383.6 L121.0,383.9 L123.8,386.5 L127.0,386.9 L129.6,387.0 L132.4,385.3 L135.3,385.5 L138.3,385.1 L140.8,383.4 L143.4,383.5 L146.0,383.7 L148.5,383.9 L150.9,382.7 L153.6,382.2 L156.1,381.9 L158.5,382.1 L161.0,382.3 L163.5,382.1 L166.1,382.7 L168.6,383.5 L171.1,384.2 L173.5,385.0 L175.9,385.3 L178.4,386.6 L181.1,387.7 L183.5,386.7 L186.0,386.9 L188.5,385.5 L191.1,385.8 L193.7,385.5 L196.3,385.0 L199.1,384.3 L201.8,383.9 L204.3,383.9 L206.3,384.2 L209.0,384.4 L211.4,385.5 L213.6,386.1 L216.2,385.5 L218.9,384.1 L221.4,383.5 L224.3,384.4 L227.0,384.6 L230.1,385.2 L232.3,384.9 L234.7,385.0 L237.3,383.9 L240.0,383.3 L242.7,383.9 L245.1,384.6 L247.6,384.2 L250.2,385.6 L252.9,385.9 L255.4,387.2 L257.8,387.0 L260.4,386.4 L262.9,385.7 L265.3,384.7 L267.8,384.8 L270.4,384.2 L272.8,383.7 L275.4,383.9 L278.0,383.8 L280.7,384.5 L283.2,383.6 L285.5,385.2 L288.7,385.1 L291.5,386.5 L294.2,387.3 L296.8,388.2 L299.7,387.0 L302.3,384.5 L305.6,383.1 L307.8,383.5 L310.3,384.1 L313.0,383.9 L315.7,385.0 L318.3,385.8 L320.8,385.0 L323.6,384.2 L326.3,383.2 L328.9,382.9 L331.2,381.9 L333.4,381.8 L336.1,381.7 L338.2,381.3 L340.9,382.1 L343.1,383.0 L345.6,384.0 L348.2,386.0 L350.9,387.1 L353.5,387.5 L356.0,386.1 L358.4,386.0 L360.9,383.9 L363.4,383.0 L366.1,383.0 L368.5,382.1 L370.9,382.8 L373.5,384.8 L376.1,384.8 L378.7,385.5 L381.2,386.2 L383.8,386.3 L386.4,384.8 L389.1,384.8 L391.6,384.3 L394.1,383.9 L396.3,383.1 L399.1,383.9 L401.5,385.0 L403.8,384.5 L406.4,384.5 L408.8,382.7 L411.4,381.3 L414.0,380.0 L416.5,377.4 L418.8,377.4 L422.0,376.4 L424.9,374.7 L427.6,376.3 L430.2,376.3 L432.6,378.6 L435.2,380.5 L438.0,382.8 L441.0,386.9 L444.0,388.4 L446.9,386.8 L449.9,382.1 L452.8,379.7 L455.7,378.3 L458.7,376.8 L461.6,376.4 L464.5,376.6 L467.4,378.9 L470.5,380.4 L472.9,382.1 L475.4,383.2 L478.0,384.0 L480.5,383.9 L482.9,384.4 L485.3,383.6 L487.8,382.2 L490.6,383.2 L493.2,383.6 L496.0,384.1 L498.9,386.8 L501.8,386.7 L504.5,387.4 L507.5,387.3 L510.4,385.3 L513.1,383.3 L515.8,382.1 L518.3,381.1 L520.6,380.4 L523.1,380.1 L525.9,380.4 L528.2,382.3 L530.7,383.6 L533.3,384.7 L536.0,386.5 L538.6,387.0 L541.0,387.3 L543.7,387.1 L546.2,386.6 L548.7,383.7 L551.1,383.2 L553.6,382.2 L556.1,383.6 L558.5,384.2 L560.9,385.7 L563.4,387.1 L566.2,387.8 L568.7,387.7 L571.4,385.9 L574.3,385.3 L577.1,382.8 L579.9,382.0 L582.5,381.3 L585.4,381.8 L588.2,384.3 L591.0,385.8 L593.7,386.4 L596.4,387.2 L599.2,387.4 L602.0,387.2 L604.8,386.3 L607.5,385.3 L610.0,384.5 L612.7,384.1 L615.1,385.2 L617.4,385.6 L620.0,386.4 L622.3,386.2 L624.8,384.9 L627.3,384.2 L629.8,384.3 L632.0,382.8 L635.2,384.7 L638.0,386.1 L641.0,386.9 L643.5,385.8 L646.0,385.4 L648.5,384.7 L651.0,384.2 L654.1,384.2 L657.0,383.4 L660.0,382.9 L662.9,384.7 L665.9,385.5 L669.0,386.6 L671.6,386.6 L674.4,384.8 L677.3,385.4 L680.0,384.9 L682.6,384.7 L685.1,385.1 L687.5,385.4 L690.0,385.1 L692.5,385.3 L695.1,384.0 L697.6,384.2 L700.0,384.0 L703.1,383.6 L706.0,383.8 L709.0,384.7 L712.0,385.3 L714.9,385.0 L718.0,386.5 L720.4,385.9 L722.9,384.4 L725.5,384.2 L728.0,383.6 L730.5,383.3 L733.0,384.1 L735.5,385.0 L738.0,384.3 L740.5,385.6 L743.1,385.8 L745.6,385.3 L748.0,386.6 L750.8,385.5 L753.4,385.1 L756.0,384.1 L758.6,384.5 L761.3,384.7 L764.0,386.1 L766.9,386.6 L770.0,386.6 L773.0,385.9 L776.3,386.2 L779.7,385.5 L782.0,385.3" fill="none" stroke="#ee8860" stroke-width="4.7" stroke-linejoin="round" stroke-linecap="round"/>
<circle cx="57.7" cy="361.7" r="3.0" fill="#44389a"/>
<circle cx="782.3" cy="266.4" r="1.5" fill="#fff" stroke="#62b797" stroke-width="0.7"/>
<circle cx="782.3" cy="385.3" r="1.5" fill="#fff" stroke="#ee8860" stroke-width="0.7"/>
<text x="82.40" y="364.60" font-size="9.5" text-anchor="start" fill="#5546a3" stroke="none" textLength="79.3" lengthAdjust="spacingAndGlyphs">Equilibrium point</text>
<circle cx="649.1" cy="351.4" r="1.6" fill="#fff" stroke="#62b797" stroke-width="0.8"/>
<circle cx="649.1" cy="363.5" r="1.6" fill="#fff" stroke="#ee8860" stroke-width="0.8"/>
<text x="655.40" y="354.50" font-size="9.2" text-anchor="start" fill="#62b797"  textLength="27.7" lengthAdjust="spacingAndGlyphs">F-PEA</text>
<text x="655.40" y="366.60" font-size="9.2" text-anchor="start" fill="#ee8860"  textLength="54.9" lengthAdjust="spacingAndGlyphs">F-PEA + TFA</text>
<line x1="56.0" y1="266.7" x2="61.6" y2="265.7" stroke="#4c4d51" stroke-width="1.0"/>
<line x1="61.6" y1="265.7" x2="66.8" y2="264.8" stroke="#c9946c" stroke-width="1.1"/>
<line x1="77.7" y1="266.7" x2="72.0" y2="265.7" stroke="#4c4d51" stroke-width="1.0"/>
<line x1="72.0" y1="265.7" x2="66.8" y2="264.8" stroke="#c9946c" stroke-width="1.1"/>
<line x1="56.0" y1="266.7" x2="61.6" y2="267.5" stroke="#4c4d51" stroke-width="1.0"/>
<line x1="61.6" y1="267.5" x2="66.8" y2="268.2" stroke="#c9946c" stroke-width="1.1"/>
<line x1="77.7" y1="266.7" x2="72.0" y2="267.5" stroke="#4c4d51" stroke-width="1.0"/>
<line x1="72.0" y1="267.5" x2="66.8" y2="268.2" stroke="#c9946c" stroke-width="1.1"/>
<line x1="77.7" y1="266.7" x2="83.3" y2="267.5" stroke="#4c4d51" stroke-width="1.0"/>
<line x1="83.3" y1="267.5" x2="88.5" y2="268.3" stroke="#c9946c" stroke-width="1.1"/>
<line x1="99.3" y1="266.7" x2="93.7" y2="267.5" stroke="#4c4d51" stroke-width="1.0"/>
<line x1="93.7" y1="267.5" x2="88.5" y2="268.3" stroke="#c9946c" stroke-width="1.1"/>
<line x1="99.3" y1="266.7" x2="104.9" y2="265.7" stroke="#4c4d51" stroke-width="1.0"/>
<line x1="104.9" y1="265.7" x2="110.1" y2="264.8" stroke="#c9946c" stroke-width="1.1"/>
<line x1="120.9" y1="266.7" x2="115.3" y2="265.7" stroke="#4c4d51" stroke-width="1.0"/>
<line x1="115.3" y1="265.7" x2="110.1" y2="264.8" stroke="#c9946c" stroke-width="1.1"/>
<line x1="99.3" y1="266.7" x2="104.9" y2="267.5" stroke="#4c4d51" stroke-width="1.0"/>
<line x1="104.9" y1="267.5" x2="110.1" y2="268.2" stroke="#c9946c" stroke-width="1.1"/>
<line x1="120.9" y1="266.7" x2="115.3" y2="267.5" stroke="#4c4d51" stroke-width="1.0"/>
<line x1="115.3" y1="267.5" x2="110.1" y2="268.2" stroke="#c9946c" stroke-width="1.1"/>
<line x1="120.9" y1="266.7" x2="126.6" y2="267.5" stroke="#4c4d51" stroke-width="1.0"/>
<line x1="126.6" y1="267.5" x2="131.8" y2="268.3" stroke="#c9946c" stroke-width="1.1"/>
<line x1="142.6" y1="266.7" x2="137.0" y2="267.5" stroke="#4c4d51" stroke-width="1.0"/>
<line x1="137.0" y1="267.5" x2="131.8" y2="268.3" stroke="#c9946c" stroke-width="1.1"/>
<line x1="142.6" y1="266.7" x2="148.2" y2="265.7" stroke="#4c4d51" stroke-width="1.0"/>
<line x1="148.2" y1="265.7" x2="153.4" y2="264.8" stroke="#c9946c" stroke-width="1.1"/>
<line x1="164.2" y1="266.7" x2="158.6" y2="265.7" stroke="#4c4d51" stroke-width="1.0"/>
<line x1="158.6" y1="265.7" x2="153.4" y2="264.8" stroke="#c9946c" stroke-width="1.1"/>
<line x1="142.6" y1="266.7" x2="148.2" y2="267.5" stroke="#4c4d51" stroke-width="1.0"/>
<line x1="148.2" y1="267.5" x2="153.4" y2="268.2" stroke="#c9946c" stroke-width="1.1"/>
<line x1="164.2" y1="266.7" x2="158.6" y2="267.5" stroke="#4c4d51" stroke-width="1.0"/>
<line x1="158.6" y1="267.5" x2="153.4" y2="268.2" stroke="#c9946c" stroke-width="1.1"/>
<line x1="164.2" y1="266.7" x2="169.9" y2="267.5" stroke="#4c4d51" stroke-width="1.0"/>
<line x1="169.9" y1="267.5" x2="175.1" y2="268.3" stroke="#c9946c" stroke-width="1.1"/>
<line x1="185.9" y1="266.7" x2="180.3" y2="267.5" stroke="#4c4d51" stroke-width="1.0"/>
<line x1="180.3" y1="267.5" x2="175.1" y2="268.3" stroke="#c9946c" stroke-width="1.1"/>
<line x1="185.9" y1="266.7" x2="191.5" y2="265.7" stroke="#4c4d51" stroke-width="1.0"/>
<line x1="191.5" y1="265.7" x2="196.7" y2="264.8" stroke="#c9946c" stroke-width="1.1"/>
<line x1="207.5" y1="266.7" x2="201.9" y2="265.7" stroke="#4c4d51" stroke-width="1.0"/>
<line x1="201.9" y1="265.7" x2="196.7" y2="264.8" stroke="#c9946c" stroke-width="1.1"/>
<line x1="185.9" y1="266.7" x2="191.5" y2="267.5" stroke="#4c4d51" stroke-width="1.0"/>
<line x1="191.5" y1="267.5" x2="196.7" y2="268.2" stroke="#c9946c" stroke-width="1.1"/>
<line x1="207.5" y1="266.7" x2="201.9" y2="267.5" stroke="#4c4d51" stroke-width="1.0"/>
<line x1="201.9" y1="267.5" x2="196.7" y2="268.2" stroke="#c9946c" stroke-width="1.1"/>
<line x1="207.5" y1="266.7" x2="213.2" y2="267.5" stroke="#4c4d51" stroke-width="1.0"/>
<line x1="213.2" y1="267.5" x2="218.4" y2="268.3" stroke="#c9946c" stroke-width="1.1"/>
<line x1="229.2" y1="266.7" x2="223.6" y2="267.5" stroke="#4c4d51" stroke-width="1.0"/>
<line x1="223.6" y1="267.5" x2="218.4" y2="268.3" stroke="#c9946c" stroke-width="1.1"/>
<line x1="229.2" y1="266.7" x2="234.8" y2="265.7" stroke="#4c4d51" stroke-width="1.0"/>
<line x1="234.8" y1="265.7" x2="240.0" y2="264.8" stroke="#c9946c" stroke-width="1.1"/>
<line x1="250.8" y1="266.7" x2="245.2" y2="265.7" stroke="#4c4d51" stroke-width="1.0"/>
<line x1="245.2" y1="265.7" x2="240.0" y2="264.8" stroke="#c9946c" stroke-width="1.1"/>
<line x1="229.2" y1="266.7" x2="234.8" y2="267.5" stroke="#4c4d51" stroke-width="1.0"/>
<line x1="234.8" y1="267.5" x2="240.0" y2="268.2" stroke="#c9946c" stroke-width="1.1"/>
<line x1="250.8" y1="266.7" x2="245.2" y2="267.5" stroke="#4c4d51" stroke-width="1.0"/>
<line x1="245.2" y1="267.5" x2="240.0" y2="268.2" stroke="#c9946c" stroke-width="1.1"/>
<line x1="250.8" y1="266.7" x2="256.5" y2="267.5" stroke="#4c4d51" stroke-width="1.0"/>
<line x1="256.5" y1="267.5" x2="261.7" y2="268.3" stroke="#c9946c" stroke-width="1.1"/>
<line x1="272.5" y1="266.7" x2="266.9" y2="267.5" stroke="#4c4d51" stroke-width="1.0"/>
<line x1="266.9" y1="267.5" x2="261.7" y2="268.3" stroke="#c9946c" stroke-width="1.1"/>
<line x1="272.5" y1="266.7" x2="278.1" y2="265.7" stroke="#4c4d51" stroke-width="1.0"/>
<line x1="278.1" y1="265.7" x2="283.3" y2="264.8" stroke="#c9946c" stroke-width="1.1"/>
<line x1="294.1" y1="266.7" x2="288.5" y2="265.7" stroke="#4c4d51" stroke-width="1.0"/>
<line x1="288.5" y1="265.7" x2="283.3" y2="264.8" stroke="#c9946c" stroke-width="1.1"/>
<line x1="272.5" y1="266.7" x2="278.1" y2="267.5" stroke="#4c4d51" stroke-width="1.0"/>
<line x1="278.1" y1="267.5" x2="283.3" y2="268.2" stroke="#c9946c" stroke-width="1.1"/>
<line x1="294.1" y1="266.7" x2="288.5" y2="267.5" stroke="#4c4d51" stroke-width="1.0"/>
<line x1="288.5" y1="267.5" x2="283.3" y2="268.2" stroke="#c9946c" stroke-width="1.1"/>
<line x1="294.1" y1="266.7" x2="299.8" y2="267.5" stroke="#4c4d51" stroke-width="1.0"/>
<line x1="299.8" y1="267.5" x2="305.0" y2="268.3" stroke="#c9946c" stroke-width="1.1"/>
<line x1="315.8" y1="266.7" x2="310.2" y2="267.5" stroke="#4c4d51" stroke-width="1.0"/>
<line x1="310.2" y1="267.5" x2="305.0" y2="268.3" stroke="#c9946c" stroke-width="1.1"/>
<line x1="56.0" y1="288.0" x2="61.6" y2="288.8" stroke="#4c4d51" stroke-width="1.0"/>
<line x1="61.6" y1="288.8" x2="66.8" y2="289.6" stroke="#c9946c" stroke-width="1.1"/>
<line x1="77.7" y1="288.0" x2="72.0" y2="288.8" stroke="#4c4d51" stroke-width="1.0"/>
<line x1="72.0" y1="288.8" x2="66.8" y2="289.6" stroke="#c9946c" stroke-width="1.1"/>
<line x1="77.7" y1="288.0" x2="83.3" y2="287.0" stroke="#4c4d51" stroke-width="1.0"/>
<line x1="83.3" y1="287.0" x2="88.5" y2="286.1" stroke="#c9946c" stroke-width="1.1"/>
<line x1="99.3" y1="288.0" x2="93.7" y2="287.0" stroke="#4c4d51" stroke-width="1.0"/>
<line x1="93.7" y1="287.0" x2="88.5" y2="286.1" stroke="#c9946c" stroke-width="1.1"/>
<line x1="77.7" y1="288.0" x2="83.3" y2="288.8" stroke="#4c4d51" stroke-width="1.0"/>
<line x1="83.3" y1="288.8" x2="88.5" y2="289.5" stroke="#c9946c" stroke-width="1.1"/>
<line x1="99.3" y1="288.0" x2="93.7" y2="288.8" stroke="#4c4d51" stroke-width="1.0"/>
<line x1="93.7" y1="288.8" x2="88.5" y2="289.5" stroke="#c9946c" stroke-width="1.1"/>
<line x1="99.3" y1="288.0" x2="104.9" y2="288.8" stroke="#4c4d51" stroke-width="1.0"/>
<line x1="104.9" y1="288.8" x2="110.1" y2="289.6" stroke="#c9946c" stroke-width="1.1"/>
<line x1="120.9" y1="288.0" x2="115.3" y2="288.8" stroke="#4c4d51" stroke-width="1.0"/>
<line x1="115.3" y1="288.8" x2="110.1" y2="289.6" stroke="#c9946c" stroke-width="1.1"/>
<line x1="120.9" y1="288.0" x2="126.6" y2="287.0" stroke="#4c4d51" stroke-width="1.0"/>
<line x1="126.6" y1="287.0" x2="131.8" y2="286.1" stroke="#c9946c" stroke-width="1.1"/>
<line x1="142.6" y1="288.0" x2="137.0" y2="287.0" stroke="#4c4d51" stroke-width="1.0"/>
<line x1="137.0" y1="287.0" x2="131.8" y2="286.1" stroke="#c9946c" stroke-width="1.1"/>
<line x1="120.9" y1="288.0" x2="126.6" y2="288.8" stroke="#4c4d51" stroke-width="1.0"/>
<line x1="126.6" y1="288.8" x2="131.8" y2="289.5" stroke="#c9946c" stroke-width="1.1"/>
<line x1="142.6" y1="288.0" x2="137.0" y2="288.8" stroke="#4c4d51" stroke-width="1.0"/>
<line x1="137.0" y1="288.8" x2="131.8" y2="289.5" stroke="#c9946c" stroke-width="1.1"/>
<line x1="142.6" y1="288.0" x2="148.2" y2="288.8" stroke="#4c4d51" stroke-width="1.0"/>
<line x1="148.2" y1="288.8" x2="153.4" y2="289.6" stroke="#c9946c" stroke-width="1.1"/>
<line x1="164.2" y1="288.0" x2="158.6" y2="288.8" stroke="#4c4d51" stroke-width="1.0"/>
<line x1="158.6" y1="288.8" x2="153.4" y2="289.6" stroke="#c9946c" stroke-width="1.1"/>
<line x1="164.2" y1="288.0" x2="169.9" y2="287.0" stroke="#4c4d51" stroke-width="1.0"/>
<line x1="169.9" y1="287.0" x2="175.1" y2="286.1" stroke="#c9946c" stroke-width="1.1"/>
<line x1="185.9" y1="288.0" x2="180.3" y2="287.0" stroke="#4c4d51" stroke-width="1.0"/>
<line x1="180.3" y1="287.0" x2="175.1" y2="286.1" stroke="#c9946c" stroke-width="1.1"/>
<line x1="164.2" y1="288.0" x2="169.9" y2="288.8" stroke="#4c4d51" stroke-width="1.0"/>
<line x1="169.9" y1="288.8" x2="175.1" y2="289.5" stroke="#c9946c" stroke-width="1.1"/>
<line x1="185.9" y1="288.0" x2="180.3" y2="288.8" stroke="#4c4d51" stroke-width="1.0"/>
<line x1="180.3" y1="288.8" x2="175.1" y2="289.5" stroke="#c9946c" stroke-width="1.1"/>
<line x1="185.9" y1="288.0" x2="191.5" y2="288.8" stroke="#4c4d51" stroke-width="1.0"/>
<line x1="191.5" y1="288.8" x2="196.7" y2="289.6" stroke="#c9946c" stroke-width="1.1"/>
<line x1="207.5" y1="288.0" x2="201.9" y2="288.8" stroke="#4c4d51" stroke-width="1.0"/>
<line x1="201.9" y1="288.8" x2="196.7" y2="289.6" stroke="#c9946c" stroke-width="1.1"/>
<line x1="207.5" y1="288.0" x2="213.2" y2="287.0" stroke="#4c4d51" stroke-width="1.0"/>
<line x1="213.2" y1="287.0" x2="218.4" y2="286.1" stroke="#c9946c" stroke-width="1.1"/>
<line x1="229.2" y1="288.0" x2="223.6" y2="287.0" stroke="#4c4d51" stroke-width="1.0"/>
<line x1="223.6" y1="287.0" x2="218.4" y2="286.1" stroke="#c9946c" stroke-width="1.1"/>
<line x1="207.5" y1="288.0" x2="213.2" y2="288.8" stroke="#4c4d51" stroke-width="1.0"/>
<line x1="213.2" y1="288.8" x2="218.4" y2="289.5" stroke="#c9946c" stroke-width="1.1"/>
<line x1="229.2" y1="288.0" x2="223.6" y2="288.8" stroke="#4c4d51" stroke-width="1.0"/>
<line x1="223.6" y1="288.8" x2="218.4" y2="289.5" stroke="#c9946c" stroke-width="1.1"/>
<line x1="229.2" y1="288.0" x2="234.8" y2="288.8" stroke="#4c4d51" stroke-width="1.0"/>
<line x1="234.8" y1="288.8" x2="240.0" y2="289.6" stroke="#c9946c" stroke-width="1.1"/>
<line x1="250.8" y1="288.0" x2="245.2" y2="288.8" stroke="#4c4d51" stroke-width="1.0"/>
<line x1="245.2" y1="288.8" x2="240.0" y2="289.6" stroke="#c9946c" stroke-width="1.1"/>
<line x1="250.8" y1="288.0" x2="256.5" y2="287.0" stroke="#4c4d51" stroke-width="1.0"/>
<line x1="256.5" y1="287.0" x2="261.7" y2="286.1" stroke="#c9946c" stroke-width="1.1"/>
<line x1="272.5" y1="288.0" x2="266.9" y2="287.0" stroke="#4c4d51" stroke-width="1.0"/>
<line x1="266.9" y1="287.0" x2="261.7" y2="286.1" stroke="#c9946c" stroke-width="1.1"/>
<line x1="250.8" y1="288.0" x2="256.5" y2="288.8" stroke="#4c4d51" stroke-width="1.0"/>
<line x1="256.5" y1="288.8" x2="261.7" y2="289.5" stroke="#c9946c" stroke-width="1.1"/>
<line x1="272.5" y1="288.0" x2="266.9" y2="288.8" stroke="#4c4d51" stroke-width="1.0"/>
<line x1="266.9" y1="288.8" x2="261.7" y2="289.5" stroke="#c9946c" stroke-width="1.1"/>
<line x1="272.5" y1="288.0" x2="278.1" y2="288.8" stroke="#4c4d51" stroke-width="1.0"/>
<line x1="278.1" y1="288.8" x2="283.3" y2="289.6" stroke="#c9946c" stroke-width="1.1"/>
<line x1="294.1" y1="288.0" x2="288.5" y2="288.8" stroke="#4c4d51" stroke-width="1.0"/>
<line x1="288.5" y1="288.8" x2="283.3" y2="289.6" stroke="#c9946c" stroke-width="1.1"/>
<line x1="294.1" y1="288.0" x2="299.8" y2="287.0" stroke="#4c4d51" stroke-width="1.0"/>
<line x1="299.8" y1="287.0" x2="305.0" y2="286.1" stroke="#c9946c" stroke-width="1.1"/>
<line x1="315.8" y1="288.0" x2="310.2" y2="287.0" stroke="#4c4d51" stroke-width="1.0"/>
<line x1="310.2" y1="287.0" x2="305.0" y2="286.1" stroke="#c9946c" stroke-width="1.1"/>
<line x1="294.1" y1="288.0" x2="299.8" y2="288.8" stroke="#4c4d51" stroke-width="1.0"/>
<line x1="299.8" y1="288.8" x2="305.0" y2="289.5" stroke="#c9946c" stroke-width="1.1"/>
<line x1="315.8" y1="288.0" x2="310.2" y2="288.8" stroke="#4c4d51" stroke-width="1.0"/>
<line x1="310.2" y1="288.8" x2="305.0" y2="289.5" stroke="#c9946c" stroke-width="1.1"/>
<line x1="56.0" y1="308.9" x2="61.6" y2="307.9" stroke="#4c4d51" stroke-width="1.0"/>
<line x1="61.6" y1="307.9" x2="66.8" y2="307.0" stroke="#c9946c" stroke-width="1.1"/>
<line x1="77.7" y1="308.9" x2="72.0" y2="307.9" stroke="#4c4d51" stroke-width="1.0"/>
<line x1="72.0" y1="307.9" x2="66.8" y2="307.0" stroke="#c9946c" stroke-width="1.1"/>
<line x1="56.0" y1="308.9" x2="61.6" y2="309.7" stroke="#4c4d51" stroke-width="1.0"/>
<line x1="61.6" y1="309.7" x2="66.8" y2="310.4" stroke="#c9946c" stroke-width="1.1"/>
<line x1="77.7" y1="308.9" x2="72.0" y2="309.7" stroke="#4c4d51" stroke-width="1.0"/>
<line x1="72.0" y1="309.7" x2="66.8" y2="310.4" stroke="#c9946c" stroke-width="1.1"/>
<line x1="77.7" y1="308.9" x2="83.3" y2="309.7" stroke="#4c4d51" stroke-width="1.0"/>
<line x1="83.3" y1="309.7" x2="88.5" y2="310.5" stroke="#c9946c" stroke-width="1.1"/>
<line x1="99.3" y1="308.9" x2="93.7" y2="309.7" stroke="#4c4d51" stroke-width="1.0"/>
<line x1="93.7" y1="309.7" x2="88.5" y2="310.5" stroke="#c9946c" stroke-width="1.1"/>
<line x1="99.3" y1="308.9" x2="104.9" y2="307.9" stroke="#4c4d51" stroke-width="1.0"/>
<line x1="104.9" y1="307.9" x2="110.1" y2="307.0" stroke="#c9946c" stroke-width="1.1"/>
<line x1="120.9" y1="308.9" x2="115.3" y2="307.9" stroke="#4c4d51" stroke-width="1.0"/>
<line x1="115.3" y1="307.9" x2="110.1" y2="307.0" stroke="#c9946c" stroke-width="1.1"/>
<line x1="99.3" y1="308.9" x2="104.9" y2="309.7" stroke="#4c4d51" stroke-width="1.0"/>
<line x1="104.9" y1="309.7" x2="110.1" y2="310.4" stroke="#c9946c" stroke-width="1.1"/>
<line x1="120.9" y1="308.9" x2="115.3" y2="309.7" stroke="#4c4d51" stroke-width="1.0"/>
<line x1="115.3" y1="309.7" x2="110.1" y2="310.4" stroke="#c9946c" stroke-width="1.1"/>
<line x1="120.9" y1="308.9" x2="126.6" y2="309.7" stroke="#4c4d51" stroke-width="1.0"/>
<line x1="126.6" y1="309.7" x2="131.8" y2="310.5" stroke="#c9946c" stroke-width="1.1"/>
<line x1="142.6" y1="308.9" x2="137.0" y2="309.7" stroke="#4c4d51" stroke-width="1.0"/>
<line x1="137.0" y1="309.7" x2="131.8" y2="310.5" stroke="#c9946c" stroke-width="1.1"/>
<line x1="142.6" y1="308.9" x2="148.2" y2="307.9" stroke="#4c4d51" stroke-width="1.0"/>
<line x1="148.2" y1="307.9" x2="153.4" y2="307.0" stroke="#c9946c" stroke-width="1.1"/>
<line x1="164.2" y1="308.9" x2="158.6" y2="307.9" stroke="#4c4d51" stroke-width="1.0"/>
<line x1="158.6" y1="307.9" x2="153.4" y2="307.0" stroke="#c9946c" stroke-width="1.1"/>
<line x1="142.6" y1="308.9" x2="148.2" y2="309.7" stroke="#4c4d51" stroke-width="1.0"/>
<line x1="148.2" y1="309.7" x2="153.4" y2="310.4" stroke="#c9946c" stroke-width="1.1"/>
<line x1="164.2" y1="308.9" x2="158.6" y2="309.7" stroke="#4c4d51" stroke-width="1.0"/>
<line x1="158.6" y1="309.7" x2="153.4" y2="310.4" stroke="#c9946c" stroke-width="1.1"/>
<line x1="164.2" y1="308.9" x2="169.9" y2="309.7" stroke="#4c4d51" stroke-width="1.0"/>
<line x1="169.9" y1="309.7" x2="175.1" y2="310.5" stroke="#c9946c" stroke-width="1.1"/>
<line x1="185.9" y1="308.9" x2="180.3" y2="309.7" stroke="#4c4d51" stroke-width="1.0"/>
<line x1="180.3" y1="309.7" x2="175.1" y2="310.5" stroke="#c9946c" stroke-width="1.1"/>
<line x1="185.9" y1="308.9" x2="191.5" y2="307.9" stroke="#4c4d51" stroke-width="1.0"/>
<line x1="191.5" y1="307.9" x2="196.7" y2="307.0" stroke="#c9946c" stroke-width="1.1"/>
<line x1="207.5" y1="308.9" x2="201.9" y2="307.9" stroke="#4c4d51" stroke-width="1.0"/>
<line x1="201.9" y1="307.9" x2="196.7" y2="307.0" stroke="#c9946c" stroke-width="1.1"/>
<line x1="185.9" y1="308.9" x2="191.5" y2="309.7" stroke="#4c4d51" stroke-width="1.0"/>
<line x1="191.5" y1="309.7" x2="196.7" y2="310.4" stroke="#c9946c" stroke-width="1.1"/>
<line x1="207.5" y1="308.9" x2="201.9" y2="309.7" stroke="#4c4d51" stroke-width="1.0"/>
<line x1="201.9" y1="309.7" x2="196.7" y2="310.4" stroke="#c9946c" stroke-width="1.1"/>
<line x1="207.5" y1="308.9" x2="213.2" y2="309.7" stroke="#4c4d51" stroke-width="1.0"/>
<line x1="213.2" y1="309.7" x2="218.4" y2="310.5" stroke="#c9946c" stroke-width="1.1"/>
<line x1="229.2" y1="308.9" x2="223.6" y2="309.7" stroke="#4c4d51" stroke-width="1.0"/>
<line x1="223.6" y1="309.7" x2="218.4" y2="310.5" stroke="#c9946c" stroke-width="1.1"/>
<line x1="229.2" y1="308.9" x2="234.8" y2="307.9" stroke="#4c4d51" stroke-width="1.0"/>
<line x1="234.8" y1="307.9" x2="240.0" y2="307.0" stroke="#c9946c" stroke-width="1.1"/>
<line x1="250.8" y1="308.9" x2="245.2" y2="307.9" stroke="#4c4d51" stroke-width="1.0"/>
<line x1="245.2" y1="307.9" x2="240.0" y2="307.0" stroke="#c9946c" stroke-width="1.1"/>
<line x1="229.2" y1="308.9" x2="234.8" y2="309.7" stroke="#4c4d51" stroke-width="1.0"/>
<line x1="234.8" y1="309.7" x2="240.0" y2="310.4" stroke="#c9946c" stroke-width="1.1"/>
<line x1="250.8" y1="308.9" x2="245.2" y2="309.7" stroke="#4c4d51" stroke-width="1.0"/>
<line x1="245.2" y1="309.7" x2="240.0" y2="310.4" stroke="#c9946c" stroke-width="1.1"/>
<line x1="250.8" y1="308.9" x2="256.5" y2="309.7" stroke="#4c4d51" stroke-width="1.0"/>
<line x1="256.5" y1="309.7" x2="261.7" y2="310.5" stroke="#c9946c" stroke-width="1.1"/>
<line x1="272.5" y1="308.9" x2="266.9" y2="309.7" stroke="#4c4d51" stroke-width="1.0"/>
<line x1="266.9" y1="309.7" x2="261.7" y2="310.5" stroke="#c9946c" stroke-width="1.1"/>
<line x1="272.5" y1="308.9" x2="278.1" y2="307.9" stroke="#4c4d51" stroke-width="1.0"/>
<line x1="278.1" y1="307.9" x2="283.3" y2="307.0" stroke="#c9946c" stroke-width="1.1"/>
<line x1="294.1" y1="308.9" x2="288.5" y2="307.9" stroke="#4c4d51" stroke-width="1.0"/>
<line x1="288.5" y1="307.9" x2="283.3" y2="307.0" stroke="#c9946c" stroke-width="1.1"/>
<line x1="272.5" y1="308.9" x2="278.1" y2="309.7" stroke="#4c4d51" stroke-width="1.0"/>
<line x1="278.1" y1="309.7" x2="283.3" y2="310.4" stroke="#c9946c" stroke-width="1.1"/>
<line x1="294.1" y1="308.9" x2="288.5" y2="309.7" stroke="#4c4d51" stroke-width="1.0"/>
<line x1="288.5" y1="309.7" x2="283.3" y2="310.4" stroke="#c9946c" stroke-width="1.1"/>
<line x1="294.1" y1="308.9" x2="299.8" y2="309.7" stroke="#4c4d51" stroke-width="1.0"/>
<line x1="299.8" y1="309.7" x2="305.0" y2="310.5" stroke="#c9946c" stroke-width="1.1"/>
<line x1="315.8" y1="308.9" x2="310.2" y2="309.7" stroke="#4c4d51" stroke-width="1.0"/>
<line x1="310.2" y1="309.7" x2="305.0" y2="310.5" stroke="#c9946c" stroke-width="1.1"/>
<line x1="56.0" y1="266.7" x2="54.9" y2="272.2" stroke="#4c4d51" stroke-width="1.0"/>
<line x1="54.9" y1="272.2" x2="53.9" y2="277.4" stroke="#c9946c" stroke-width="1.1"/>
<line x1="56.0" y1="288.0" x2="54.9" y2="282.5" stroke="#4c4d51" stroke-width="1.0"/>
<line x1="54.9" y1="282.5" x2="53.9" y2="277.4" stroke="#c9946c" stroke-width="1.1"/>
<line x1="56.0" y1="266.7" x2="57.1" y2="272.4" stroke="#4c4d51" stroke-width="1.0"/>
<line x1="57.1" y1="272.4" x2="58.1" y2="277.7" stroke="#c9946c" stroke-width="1.1"/>
<line x1="56.0" y1="288.0" x2="57.1" y2="282.6" stroke="#4c4d51" stroke-width="1.0"/>
<line x1="57.1" y1="282.6" x2="58.1" y2="277.7" stroke="#c9946c" stroke-width="1.1"/>
<line x1="56.0" y1="288.0" x2="55.1" y2="293.4" stroke="#4c4d51" stroke-width="1.0"/>
<line x1="55.1" y1="293.4" x2="54.3" y2="298.4" stroke="#c9946c" stroke-width="1.1"/>
<line x1="56.0" y1="308.9" x2="55.1" y2="303.5" stroke="#4c4d51" stroke-width="1.0"/>
<line x1="55.1" y1="303.5" x2="54.3" y2="298.4" stroke="#c9946c" stroke-width="1.1"/>
<line x1="56.0" y1="288.0" x2="56.9" y2="293.6" stroke="#4c4d51" stroke-width="1.0"/>
<line x1="56.9" y1="293.6" x2="57.7" y2="298.8" stroke="#c9946c" stroke-width="1.1"/>
<line x1="56.0" y1="308.9" x2="56.9" y2="303.6" stroke="#4c4d51" stroke-width="1.0"/>
<line x1="56.9" y1="303.6" x2="57.7" y2="298.8" stroke="#c9946c" stroke-width="1.1"/>
<line x1="77.7" y1="266.7" x2="76.8" y2="272.2" stroke="#4c4d51" stroke-width="1.0"/>
<line x1="76.8" y1="272.2" x2="76.0" y2="277.4" stroke="#c9946c" stroke-width="1.1"/>
<line x1="77.7" y1="288.0" x2="76.8" y2="282.5" stroke="#4c4d51" stroke-width="1.0"/>
<line x1="76.8" y1="282.5" x2="76.0" y2="277.4" stroke="#c9946c" stroke-width="1.1"/>
<line x1="77.7" y1="266.7" x2="78.5" y2="272.4" stroke="#4c4d51" stroke-width="1.0"/>
<line x1="78.5" y1="272.4" x2="79.4" y2="277.7" stroke="#c9946c" stroke-width="1.1"/>
<line x1="77.7" y1="288.0" x2="78.5" y2="282.6" stroke="#4c4d51" stroke-width="1.0"/>
<line x1="78.5" y1="282.6" x2="79.4" y2="277.7" stroke="#c9946c" stroke-width="1.1"/>
<line x1="77.7" y1="288.0" x2="76.6" y2="293.4" stroke="#4c4d51" stroke-width="1.0"/>
<line x1="76.6" y1="293.4" x2="75.6" y2="298.4" stroke="#c9946c" stroke-width="1.1"/>
<line x1="77.7" y1="308.9" x2="76.6" y2="303.5" stroke="#4c4d51" stroke-width="1.0"/>
<line x1="76.6" y1="303.5" x2="75.6" y2="298.4" stroke="#c9946c" stroke-width="1.1"/>
<line x1="77.7" y1="288.0" x2="78.7" y2="293.6" stroke="#4c4d51" stroke-width="1.0"/>
<line x1="78.7" y1="293.6" x2="79.8" y2="298.8" stroke="#c9946c" stroke-width="1.1"/>
<line x1="77.7" y1="308.9" x2="78.7" y2="303.6" stroke="#4c4d51" stroke-width="1.0"/>
<line x1="78.7" y1="303.6" x2="79.8" y2="298.8" stroke="#c9946c" stroke-width="1.1"/>
<line x1="99.3" y1="266.7" x2="98.2" y2="272.2" stroke="#4c4d51" stroke-width="1.0"/>
<line x1="98.2" y1="272.2" x2="97.2" y2="277.4" stroke="#c9946c" stroke-width="1.1"/>
<line x1="99.3" y1="288.0" x2="98.2" y2="282.5" stroke="#4c4d51" stroke-width="1.0"/>
<line x1="98.2" y1="282.5" x2="97.2" y2="277.4" stroke="#c9946c" stroke-width="1.1"/>
<line x1="99.3" y1="266.7" x2="100.4" y2="272.4" stroke="#4c4d51" stroke-width="1.0"/>
<line x1="100.4" y1="272.4" x2="101.4" y2="277.7" stroke="#c9946c" stroke-width="1.1"/>
<line x1="99.3" y1="288.0" x2="100.4" y2="282.6" stroke="#4c4d51" stroke-width="1.0"/>
<line x1="100.4" y1="282.6" x2="101.4" y2="277.7" stroke="#c9946c" stroke-width="1.1"/>
<line x1="99.3" y1="288.0" x2="98.4" y2="293.4" stroke="#4c4d51" stroke-width="1.0"/>
<line x1="98.4" y1="293.4" x2="97.6" y2="298.4" stroke="#c9946c" stroke-width="1.1"/>
<line x1="99.3" y1="308.9" x2="98.4" y2="303.5" stroke="#4c4d51" stroke-width="1.0"/>
<line x1="98.4" y1="303.5" x2="97.6" y2="298.4" stroke="#c9946c" stroke-width="1.1"/>
<line x1="99.3" y1="288.0" x2="100.2" y2="293.6" stroke="#4c4d51" stroke-width="1.0"/>
<line x1="100.2" y1="293.6" x2="101.0" y2="298.8" stroke="#c9946c" stroke-width="1.1"/>
<line x1="99.3" y1="308.9" x2="100.2" y2="303.6" stroke="#4c4d51" stroke-width="1.0"/>
<line x1="100.2" y1="303.6" x2="101.0" y2="298.8" stroke="#c9946c" stroke-width="1.1"/>
<line x1="120.9" y1="266.7" x2="120.1" y2="272.2" stroke="#4c4d51" stroke-width="1.0"/>
<line x1="120.1" y1="272.2" x2="119.2" y2="277.4" stroke="#c9946c" stroke-width="1.1"/>
<line x1="120.9" y1="288.0" x2="120.1" y2="282.5" stroke="#4c4d51" stroke-width="1.0"/>
<line x1="120.1" y1="282.5" x2="119.2" y2="277.4" stroke="#c9946c" stroke-width="1.1"/>
<line x1="120.9" y1="266.7" x2="121.8" y2="272.4" stroke="#4c4d51" stroke-width="1.0"/>
<line x1="121.8" y1="272.4" x2="122.6" y2="277.7" stroke="#c9946c" stroke-width="1.1"/>
<line x1="120.9" y1="288.0" x2="121.8" y2="282.6" stroke="#4c4d51" stroke-width="1.0"/>
<line x1="121.8" y1="282.6" x2="122.6" y2="277.7" stroke="#c9946c" stroke-width="1.1"/>
<line x1="120.9" y1="288.0" x2="119.9" y2="293.4" stroke="#4c4d51" stroke-width="1.0"/>
<line x1="119.9" y1="293.4" x2="118.8" y2="298.4" stroke="#c9946c" stroke-width="1.1"/>
<line x1="120.9" y1="308.9" x2="119.9" y2="303.5" stroke="#4c4d51" stroke-width="1.0"/>
<line x1="119.9" y1="303.5" x2="118.8" y2="298.4" stroke="#c9946c" stroke-width="1.1"/>
<line x1="120.9" y1="288.0" x2="122.0" y2="293.6" stroke="#4c4d51" stroke-width="1.0"/>
<line x1="122.0" y1="293.6" x2="123.0" y2="298.8" stroke="#c9946c" stroke-width="1.1"/>
<line x1="120.9" y1="308.9" x2="122.0" y2="303.6" stroke="#4c4d51" stroke-width="1.0"/>
<line x1="122.0" y1="303.6" x2="123.0" y2="298.8" stroke="#c9946c" stroke-width="1.1"/>
<line x1="142.6" y1="266.7" x2="141.5" y2="272.2" stroke="#4c4d51" stroke-width="1.0"/>
<line x1="141.5" y1="272.2" x2="140.5" y2="277.4" stroke="#c9946c" stroke-width="1.1"/>
<line x1="142.6" y1="288.0" x2="141.5" y2="282.5" stroke="#4c4d51" stroke-width="1.0"/>
<line x1="141.5" y1="282.5" x2="140.5" y2="277.4" stroke="#c9946c" stroke-width="1.1"/>
<line x1="142.6" y1="266.7" x2="143.7" y2="272.4" stroke="#4c4d51" stroke-width="1.0"/>
<line x1="143.7" y1="272.4" x2="144.7" y2="277.7" stroke="#c9946c" stroke-width="1.1"/>
<line x1="142.6" y1="288.0" x2="143.7" y2="282.6" stroke="#4c4d51" stroke-width="1.0"/>
<line x1="143.7" y1="282.6" x2="144.7" y2="277.7" stroke="#c9946c" stroke-width="1.1"/>
<line x1="142.6" y1="288.0" x2="141.7" y2="293.4" stroke="#4c4d51" stroke-width="1.0"/>
<line x1="141.7" y1="293.4" x2="140.9" y2="298.4" stroke="#c9946c" stroke-width="1.1"/>
<line x1="142.6" y1="308.9" x2="141.7" y2="303.5" stroke="#4c4d51" stroke-width="1.0"/>
<line x1="141.7" y1="303.5" x2="140.9" y2="298.4" stroke="#c9946c" stroke-width="1.1"/>
<line x1="142.6" y1="288.0" x2="143.5" y2="293.6" stroke="#4c4d51" stroke-width="1.0"/>
<line x1="143.5" y1="293.6" x2="144.3" y2="298.8" stroke="#c9946c" stroke-width="1.1"/>
<line x1="142.6" y1="308.9" x2="143.5" y2="303.6" stroke="#4c4d51" stroke-width="1.0"/>
<line x1="143.5" y1="303.6" x2="144.3" y2="298.8" stroke="#c9946c" stroke-width="1.1"/>
<line x1="164.2" y1="266.7" x2="163.4" y2="272.2" stroke="#4c4d51" stroke-width="1.0"/>
<line x1="163.4" y1="272.2" x2="162.6" y2="277.4" stroke="#c9946c" stroke-width="1.1"/>
<line x1="164.2" y1="288.0" x2="163.4" y2="282.5" stroke="#4c4d51" stroke-width="1.0"/>
<line x1="163.4" y1="282.5" x2="162.6" y2="277.4" stroke="#c9946c" stroke-width="1.1"/>
<line x1="164.2" y1="266.7" x2="165.1" y2="272.4" stroke="#4c4d51" stroke-width="1.0"/>
<line x1="165.1" y1="272.4" x2="165.9" y2="277.7" stroke="#c9946c" stroke-width="1.1"/>
<line x1="164.2" y1="288.0" x2="165.1" y2="282.6" stroke="#4c4d51" stroke-width="1.0"/>
<line x1="165.1" y1="282.6" x2="165.9" y2="277.7" stroke="#c9946c" stroke-width="1.1"/>
<line x1="164.2" y1="288.0" x2="163.2" y2="293.4" stroke="#4c4d51" stroke-width="1.0"/>
<line x1="163.2" y1="293.4" x2="162.2" y2="298.4" stroke="#c9946c" stroke-width="1.1"/>
<line x1="164.2" y1="308.9" x2="163.2" y2="303.5" stroke="#4c4d51" stroke-width="1.0"/>
<line x1="163.2" y1="303.5" x2="162.2" y2="298.4" stroke="#c9946c" stroke-width="1.1"/>
<line x1="164.2" y1="288.0" x2="165.3" y2="293.6" stroke="#4c4d51" stroke-width="1.0"/>
<line x1="165.3" y1="293.6" x2="166.3" y2="298.8" stroke="#c9946c" stroke-width="1.1"/>
<line x1="164.2" y1="308.9" x2="165.3" y2="303.6" stroke="#4c4d51" stroke-width="1.0"/>
<line x1="165.3" y1="303.6" x2="166.3" y2="298.8" stroke="#c9946c" stroke-width="1.1"/>
<line x1="185.9" y1="266.7" x2="184.8" y2="272.2" stroke="#4c4d51" stroke-width="1.0"/>
<line x1="184.8" y1="272.2" x2="183.8" y2="277.4" stroke="#c9946c" stroke-width="1.1"/>
<line x1="185.9" y1="288.0" x2="184.8" y2="282.5" stroke="#4c4d51" stroke-width="1.0"/>
<line x1="184.8" y1="282.5" x2="183.8" y2="277.4" stroke="#c9946c" stroke-width="1.1"/>
<line x1="185.9" y1="266.7" x2="187.0" y2="272.4" stroke="#4c4d51" stroke-width="1.0"/>
<line x1="187.0" y1="272.4" x2="188.0" y2="277.7" stroke="#c9946c" stroke-width="1.1"/>
<line x1="185.9" y1="288.0" x2="187.0" y2="282.6" stroke="#4c4d51" stroke-width="1.0"/>
<line x1="187.0" y1="282.6" x2="188.0" y2="277.7" stroke="#c9946c" stroke-width="1.1"/>
<line x1="185.9" y1="288.0" x2="185.0" y2="293.4" stroke="#4c4d51" stroke-width="1.0"/>
<line x1="185.0" y1="293.4" x2="184.2" y2="298.4" stroke="#c9946c" stroke-width="1.1"/>
<line x1="185.9" y1="308.9" x2="185.0" y2="303.5" stroke="#4c4d51" stroke-width="1.0"/>
<line x1="185.0" y1="303.5" x2="184.2" y2="298.4" stroke="#c9946c" stroke-width="1.1"/>
<line x1="185.9" y1="288.0" x2="186.8" y2="293.6" stroke="#4c4d51" stroke-width="1.0"/>
<line x1="186.8" y1="293.6" x2="187.6" y2="298.8" stroke="#c9946c" stroke-width="1.1"/>
<line x1="185.9" y1="308.9" x2="186.8" y2="303.6" stroke="#4c4d51" stroke-width="1.0"/>
<line x1="186.8" y1="303.6" x2="187.6" y2="298.8" stroke="#c9946c" stroke-width="1.1"/>
<line x1="207.5" y1="266.7" x2="206.7" y2="272.2" stroke="#4c4d51" stroke-width="1.0"/>
<line x1="206.7" y1="272.2" x2="205.8" y2="277.4" stroke="#c9946c" stroke-width="1.1"/>
<line x1="207.5" y1="288.0" x2="206.7" y2="282.5" stroke="#4c4d51" stroke-width="1.0"/>
<line x1="206.7" y1="282.5" x2="205.8" y2="277.4" stroke="#c9946c" stroke-width="1.1"/>
<line x1="207.5" y1="266.7" x2="208.4" y2="272.4" stroke="#4c4d51" stroke-width="1.0"/>
<line x1="208.4" y1="272.4" x2="209.2" y2="277.7" stroke="#c9946c" stroke-width="1.1"/>
<line x1="207.5" y1="288.0" x2="208.4" y2="282.6" stroke="#4c4d51" stroke-width="1.0"/>
<line x1="208.4" y1="282.6" x2="209.2" y2="277.7" stroke="#c9946c" stroke-width="1.1"/>
<line x1="207.5" y1="288.0" x2="206.5" y2="293.4" stroke="#4c4d51" stroke-width="1.0"/>
<line x1="206.5" y1="293.4" x2="205.4" y2="298.4" stroke="#c9946c" stroke-width="1.1"/>
<line x1="207.5" y1="308.9" x2="206.5" y2="303.5" stroke="#4c4d51" stroke-width="1.0"/>
<line x1="206.5" y1="303.5" x2="205.4" y2="298.4" stroke="#c9946c" stroke-width="1.1"/>
<line x1="207.5" y1="288.0" x2="208.6" y2="293.6" stroke="#4c4d51" stroke-width="1.0"/>
<line x1="208.6" y1="293.6" x2="209.6" y2="298.8" stroke="#c9946c" stroke-width="1.1"/>
<line x1="207.5" y1="308.9" x2="208.6" y2="303.6" stroke="#4c4d51" stroke-width="1.0"/>
<line x1="208.6" y1="303.6" x2="209.6" y2="298.8" stroke="#c9946c" stroke-width="1.1"/>
<line x1="229.2" y1="266.7" x2="228.1" y2="272.2" stroke="#4c4d51" stroke-width="1.0"/>
<line x1="228.1" y1="272.2" x2="227.1" y2="277.4" stroke="#c9946c" stroke-width="1.1"/>
<line x1="229.2" y1="288.0" x2="228.1" y2="282.5" stroke="#4c4d51" stroke-width="1.0"/>
<line x1="228.1" y1="282.5" x2="227.1" y2="277.4" stroke="#c9946c" stroke-width="1.1"/>
<line x1="229.2" y1="266.7" x2="230.3" y2="272.4" stroke="#4c4d51" stroke-width="1.0"/>
<line x1="230.3" y1="272.4" x2="231.3" y2="277.7" stroke="#c9946c" stroke-width="1.1"/>
<line x1="229.2" y1="288.0" x2="230.3" y2="282.6" stroke="#4c4d51" stroke-width="1.0"/>
<line x1="230.3" y1="282.6" x2="231.3" y2="277.7" stroke="#c9946c" stroke-width="1.1"/>
<line x1="229.2" y1="288.0" x2="228.3" y2="293.4" stroke="#4c4d51" stroke-width="1.0"/>
<line x1="228.3" y1="293.4" x2="227.5" y2="298.4" stroke="#c9946c" stroke-width="1.1"/>
<line x1="229.2" y1="308.9" x2="228.3" y2="303.5" stroke="#4c4d51" stroke-width="1.0"/>
<line x1="228.3" y1="303.5" x2="227.5" y2="298.4" stroke="#c9946c" stroke-width="1.1"/>
<line x1="229.2" y1="288.0" x2="230.1" y2="293.6" stroke="#4c4d51" stroke-width="1.0"/>
<line x1="230.1" y1="293.6" x2="230.9" y2="298.8" stroke="#c9946c" stroke-width="1.1"/>
<line x1="229.2" y1="308.9" x2="230.1" y2="303.6" stroke="#4c4d51" stroke-width="1.0"/>
<line x1="230.1" y1="303.6" x2="230.9" y2="298.8" stroke="#c9946c" stroke-width="1.1"/>
<line x1="250.8" y1="266.7" x2="250.0" y2="272.2" stroke="#4c4d51" stroke-width="1.0"/>
<line x1="250.0" y1="272.2" x2="249.2" y2="277.4" stroke="#c9946c" stroke-width="1.1"/>
<line x1="250.8" y1="288.0" x2="250.0" y2="282.5" stroke="#4c4d51" stroke-width="1.0"/>
<line x1="250.0" y1="282.5" x2="249.2" y2="277.4" stroke="#c9946c" stroke-width="1.1"/>
<line x1="250.8" y1="266.7" x2="251.7" y2="272.4" stroke="#4c4d51" stroke-width="1.0"/>
<line x1="251.7" y1="272.4" x2="252.5" y2="277.7" stroke="#c9946c" stroke-width="1.1"/>
<line x1="250.8" y1="288.0" x2="251.7" y2="282.6" stroke="#4c4d51" stroke-width="1.0"/>
<line x1="251.7" y1="282.6" x2="252.5" y2="277.7" stroke="#c9946c" stroke-width="1.1"/>
<line x1="250.8" y1="288.0" x2="249.8" y2="293.4" stroke="#4c4d51" stroke-width="1.0"/>
<line x1="249.8" y1="293.4" x2="248.8" y2="298.4" stroke="#c9946c" stroke-width="1.1"/>
<line x1="250.8" y1="308.9" x2="249.8" y2="303.5" stroke="#4c4d51" stroke-width="1.0"/>
<line x1="249.8" y1="303.5" x2="248.8" y2="298.4" stroke="#c9946c" stroke-width="1.1"/>
<line x1="250.8" y1="288.0" x2="251.9" y2="293.6" stroke="#4c4d51" stroke-width="1.0"/>
<line x1="251.9" y1="293.6" x2="252.9" y2="298.8" stroke="#c9946c" stroke-width="1.1"/>
<line x1="250.8" y1="308.9" x2="251.9" y2="303.6" stroke="#4c4d51" stroke-width="1.0"/>
<line x1="251.9" y1="303.6" x2="252.9" y2="298.8" stroke="#c9946c" stroke-width="1.1"/>
<line x1="272.5" y1="266.7" x2="271.4" y2="272.2" stroke="#4c4d51" stroke-width="1.0"/>
<line x1="271.4" y1="272.2" x2="270.4" y2="277.4" stroke="#c9946c" stroke-width="1.1"/>
<line x1="272.5" y1="288.0" x2="271.4" y2="282.5" stroke="#4c4d51" stroke-width="1.0"/>
<line x1="271.4" y1="282.5" x2="270.4" y2="277.4" stroke="#c9946c" stroke-width="1.1"/>
<line x1="272.5" y1="266.7" x2="273.6" y2="272.4" stroke="#4c4d51" stroke-width="1.0"/>
<line x1="273.6" y1="272.4" x2="274.6" y2="277.7" stroke="#c9946c" stroke-width="1.1"/>
<line x1="272.5" y1="288.0" x2="273.6" y2="282.6" stroke="#4c4d51" stroke-width="1.0"/>
<line x1="273.6" y1="282.6" x2="274.6" y2="277.7" stroke="#c9946c" stroke-width="1.1"/>
<line x1="272.5" y1="288.0" x2="271.6" y2="293.4" stroke="#4c4d51" stroke-width="1.0"/>
<line x1="271.6" y1="293.4" x2="270.8" y2="298.4" stroke="#c9946c" stroke-width="1.1"/>
<line x1="272.5" y1="308.9" x2="271.6" y2="303.5" stroke="#4c4d51" stroke-width="1.0"/>
<line x1="271.6" y1="303.5" x2="270.8" y2="298.4" stroke="#c9946c" stroke-width="1.1"/>
<line x1="272.5" y1="288.0" x2="273.4" y2="293.6" stroke="#4c4d51" stroke-width="1.0"/>
<line x1="273.4" y1="293.6" x2="274.2" y2="298.8" stroke="#c9946c" stroke-width="1.1"/>
<line x1="272.5" y1="308.9" x2="273.4" y2="303.6" stroke="#4c4d51" stroke-width="1.0"/>
<line x1="273.4" y1="303.6" x2="274.2" y2="298.8" stroke="#c9946c" stroke-width="1.1"/>
<line x1="294.1" y1="266.7" x2="293.3" y2="272.2" stroke="#4c4d51" stroke-width="1.0"/>
<line x1="293.3" y1="272.2" x2="292.4" y2="277.4" stroke="#c9946c" stroke-width="1.1"/>
<line x1="294.1" y1="288.0" x2="293.3" y2="282.5" stroke="#4c4d51" stroke-width="1.0"/>
<line x1="293.3" y1="282.5" x2="292.4" y2="277.4" stroke="#c9946c" stroke-width="1.1"/>
<line x1="294.1" y1="266.7" x2="295.0" y2="272.4" stroke="#4c4d51" stroke-width="1.0"/>
<line x1="295.0" y1="272.4" x2="295.8" y2="277.7" stroke="#c9946c" stroke-width="1.1"/>
<line x1="294.1" y1="288.0" x2="295.0" y2="282.6" stroke="#4c4d51" stroke-width="1.0"/>
<line x1="295.0" y1="282.6" x2="295.8" y2="277.7" stroke="#c9946c" stroke-width="1.1"/>
<line x1="294.1" y1="288.0" x2="293.1" y2="293.4" stroke="#4c4d51" stroke-width="1.0"/>
<line x1="293.1" y1="293.4" x2="292.0" y2="298.4" stroke="#c9946c" stroke-width="1.1"/>
<line x1="294.1" y1="308.9" x2="293.1" y2="303.5" stroke="#4c4d51" stroke-width="1.0"/>
<line x1="293.1" y1="303.5" x2="292.0" y2="298.4" stroke="#c9946c" stroke-width="1.1"/>
<line x1="294.1" y1="288.0" x2="295.2" y2="293.6" stroke="#4c4d51" stroke-width="1.0"/>
<line x1="295.2" y1="293.6" x2="296.2" y2="298.8" stroke="#c9946c" stroke-width="1.1"/>
<line x1="294.1" y1="308.9" x2="295.2" y2="303.6" stroke="#4c4d51" stroke-width="1.0"/>
<line x1="295.2" y1="303.6" x2="296.2" y2="298.8" stroke="#c9946c" stroke-width="1.1"/>
<line x1="315.8" y1="266.7" x2="314.7" y2="272.2" stroke="#4c4d51" stroke-width="1.0"/>
<line x1="314.7" y1="272.2" x2="313.7" y2="277.4" stroke="#c9946c" stroke-width="1.1"/>
<line x1="315.8" y1="288.0" x2="314.7" y2="282.5" stroke="#4c4d51" stroke-width="1.0"/>
<line x1="314.7" y1="282.5" x2="313.7" y2="277.4" stroke="#c9946c" stroke-width="1.1"/>
<line x1="315.8" y1="266.7" x2="316.9" y2="272.4" stroke="#4c4d51" stroke-width="1.0"/>
<line x1="316.9" y1="272.4" x2="317.9" y2="277.7" stroke="#c9946c" stroke-width="1.1"/>
<line x1="315.8" y1="288.0" x2="316.9" y2="282.6" stroke="#4c4d51" stroke-width="1.0"/>
<line x1="316.9" y1="282.6" x2="317.9" y2="277.7" stroke="#c9946c" stroke-width="1.1"/>
<line x1="315.8" y1="288.0" x2="314.9" y2="293.4" stroke="#4c4d51" stroke-width="1.0"/>
<line x1="314.9" y1="293.4" x2="314.1" y2="298.4" stroke="#c9946c" stroke-width="1.1"/>
<line x1="315.8" y1="308.9" x2="314.9" y2="303.5" stroke="#4c4d51" stroke-width="1.0"/>
<line x1="314.9" y1="303.5" x2="314.1" y2="298.4" stroke="#c9946c" stroke-width="1.1"/>
<line x1="315.8" y1="288.0" x2="316.7" y2="293.6" stroke="#4c4d51" stroke-width="1.0"/>
<line x1="316.7" y1="293.6" x2="317.5" y2="298.8" stroke="#c9946c" stroke-width="1.1"/>
<line x1="315.8" y1="308.9" x2="316.7" y2="303.6" stroke="#4c4d51" stroke-width="1.0"/>
<line x1="316.7" y1="303.6" x2="317.5" y2="298.8" stroke="#c9946c" stroke-width="1.1"/>
<defs><radialGradient id="cs" cx="42%" cy="42%" r="62%"><stop offset="0" stop-color="#f2ccd3"/><stop offset="0.32" stop-color="#c25a6e"/><stop offset="0.8" stop-color="#ab4358"/><stop offset="1" stop-color="#c57c8c"/></radialGradient><radialGradient id="br" cx="50%" cy="50%" r="50%"><stop offset="0" stop-color="#ecbc94"/><stop offset="0.5" stop-color="#d48c59"/><stop offset="1" stop-color="#a8673a"/></radialGradient><radialGradient id="pb" cx="45%" cy="40%" r="60%"><stop offset="0" stop-color="#77787d"/><stop offset="0.5" stop-color="#404145"/><stop offset="1" stop-color="#38393c"/></radialGradient></defs>
<circle cx="66.6" cy="277.4" r="4.2" fill="url(#cs)"/>
<circle cx="66.6" cy="298.9" r="4.5" fill="url(#cs)"/>
<circle cx="88.3" cy="277.9" r="4.5" fill="url(#cs)"/>
<circle cx="88.3" cy="298.4" r="4.5" fill="url(#cs)"/>
<circle cx="110.8" cy="277.4" r="4.5" fill="url(#cs)"/>
<circle cx="110.8" cy="298.9" r="4.2" fill="url(#cs)"/>
<circle cx="131.6" cy="277.9" r="4.2" fill="url(#cs)"/>
<circle cx="131.6" cy="298.4" r="4.5" fill="url(#cs)"/>
<circle cx="153.2" cy="277.4" r="4.5" fill="url(#cs)"/>
<circle cx="153.2" cy="298.9" r="4.5" fill="url(#cs)"/>
<circle cx="175.8" cy="277.9" r="4.5" fill="url(#cs)"/>
<circle cx="175.8" cy="298.4" r="4.2" fill="url(#cs)"/>
<circle cx="196.5" cy="277.4" r="4.2" fill="url(#cs)"/>
<circle cx="196.5" cy="298.9" r="4.5" fill="url(#cs)"/>
<circle cx="218.2" cy="277.9" r="4.5" fill="url(#cs)"/>
<circle cx="218.2" cy="298.4" r="4.5" fill="url(#cs)"/>
<circle cx="240.7" cy="277.4" r="4.5" fill="url(#cs)"/>
<circle cx="240.7" cy="298.9" r="4.2" fill="url(#cs)"/>
<circle cx="261.5" cy="277.9" r="4.2" fill="url(#cs)"/>
<circle cx="261.5" cy="298.4" r="4.5" fill="url(#cs)"/>
<circle cx="283.1" cy="277.4" r="4.5" fill="url(#cs)"/>
<circle cx="283.1" cy="298.9" r="4.5" fill="url(#cs)"/>
<circle cx="305.7" cy="277.9" r="4.5" fill="url(#cs)"/>
<circle cx="305.7" cy="298.4" r="4.2" fill="url(#cs)"/>
<circle cx="66.8" cy="264.8" r="1.8" fill="url(#br)"/>
<circle cx="66.8" cy="268.2" r="1.8" fill="url(#br)"/>
<circle cx="88.5" cy="268.3" r="1.8" fill="url(#br)"/>
<circle cx="110.1" cy="264.8" r="1.8" fill="url(#br)"/>
<circle cx="110.1" cy="268.2" r="1.8" fill="url(#br)"/>
<circle cx="131.8" cy="268.3" r="1.8" fill="url(#br)"/>
<circle cx="153.4" cy="264.8" r="1.8" fill="url(#br)"/>
<circle cx="153.4" cy="268.2" r="1.8" fill="url(#br)"/>
<circle cx="175.1" cy="268.3" r="1.8" fill="url(#br)"/>
<circle cx="196.7" cy="264.8" r="1.8" fill="url(#br)"/>
<circle cx="196.7" cy="268.2" r="1.8" fill="url(#br)"/>
<circle cx="218.4" cy="268.3" r="1.8" fill="url(#br)"/>
<circle cx="240.0" cy="264.8" r="1.8" fill="url(#br)"/>
<circle cx="240.0" cy="268.2" r="1.8" fill="url(#br)"/>
<circle cx="261.7" cy="268.3" r="1.8" fill="url(#br)"/>
<circle cx="283.3" cy="264.8" r="1.8" fill="url(#br)"/>
<circle cx="283.3" cy="268.2" r="1.8" fill="url(#br)"/>
<circle cx="305.0" cy="268.3" r="1.8" fill="url(#br)"/>
<circle cx="66.8" cy="289.6" r="1.8" fill="url(#br)"/>
<circle cx="88.5" cy="286.1" r="1.8" fill="url(#br)"/>
<circle cx="88.5" cy="289.5" r="1.8" fill="url(#br)"/>
<circle cx="110.1" cy="289.6" r="1.8" fill="url(#br)"/>
<circle cx="131.8" cy="286.1" r="1.8" fill="url(#br)"/>
<circle cx="131.8" cy="289.5" r="1.8" fill="url(#br)"/>
<circle cx="153.4" cy="289.6" r="1.8" fill="url(#br)"/>
<circle cx="175.1" cy="286.1" r="1.8" fill="url(#br)"/>
<circle cx="175.1" cy="289.5" r="1.8" fill="url(#br)"/>
<circle cx="196.7" cy="289.6" r="1.8" fill="url(#br)"/>
<circle cx="218.4" cy="286.1" r="1.8" fill="url(#br)"/>
<circle cx="218.4" cy="289.5" r="1.8" fill="url(#br)"/>
<circle cx="240.0" cy="289.6" r="1.8" fill="url(#br)"/>
<circle cx="261.7" cy="286.1" r="1.8" fill="url(#br)"/>
<circle cx="261.7" cy="289.5" r="1.8" fill="url(#br)"/>
<circle cx="283.3" cy="289.6" r="1.8" fill="url(#br)"/>
<circle cx="305.0" cy="286.1" r="1.8" fill="url(#br)"/>
<circle cx="305.0" cy="289.5" r="1.8" fill="url(#br)"/>
<circle cx="66.8" cy="307.0" r="1.8" fill="url(#br)"/>
<circle cx="66.8" cy="310.4" r="1.8" fill="url(#br)"/>
<circle cx="88.5" cy="310.5" r="1.8" fill="url(#br)"/>
<circle cx="110.1" cy="307.0" r="1.8" fill="url(#br)"/>
<circle cx="110.1" cy="310.4" r="1.8" fill="url(#br)"/>
<circle cx="131.8" cy="310.5" r="1.8" fill="url(#br)"/>
<circle cx="153.4" cy="307.0" r="1.8" fill="url(#br)"/>
<circle cx="153.4" cy="310.4" r="1.8" fill="url(#br)"/>
<circle cx="175.1" cy="310.5" r="1.8" fill="url(#br)"/>
<circle cx="196.7" cy="307.0" r="1.8" fill="url(#br)"/>
<circle cx="196.7" cy="310.4" r="1.8" fill="url(#br)"/>
<circle cx="218.4" cy="310.5" r="1.8" fill="url(#br)"/>
<circle cx="240.0" cy="307.0" r="1.8" fill="url(#br)"/>
<circle cx="240.0" cy="310.4" r="1.8" fill="url(#br)"/>
<circle cx="261.7" cy="310.5" r="1.8" fill="url(#br)"/>
<circle cx="283.3" cy="307.0" r="1.8" fill="url(#br)"/>
<circle cx="283.3" cy="310.4" r="1.8" fill="url(#br)"/>
<circle cx="305.0" cy="310.5" r="1.8" fill="url(#br)"/>
<circle cx="53.9" cy="277.4" r="1.8" fill="url(#br)"/>
<circle cx="58.1" cy="277.7" r="1.8" fill="url(#br)"/>
<circle cx="54.3" cy="298.4" r="1.8" fill="url(#br)"/>
<circle cx="57.7" cy="298.8" r="1.8" fill="url(#br)"/>
<circle cx="76.0" cy="277.4" r="1.8" fill="url(#br)"/>
<circle cx="79.4" cy="277.7" r="1.8" fill="url(#br)"/>
<circle cx="75.6" cy="298.4" r="1.8" fill="url(#br)"/>
<circle cx="79.8" cy="298.8" r="1.8" fill="url(#br)"/>
<circle cx="97.2" cy="277.4" r="1.8" fill="url(#br)"/>
<circle cx="101.4" cy="277.7" r="1.8" fill="url(#br)"/>
<circle cx="97.6" cy="298.4" r="1.8" fill="url(#br)"/>
<circle cx="101.0" cy="298.8" r="1.8" fill="url(#br)"/>
<circle cx="119.2" cy="277.4" r="1.8" fill="url(#br)"/>
<circle cx="122.6" cy="277.7" r="1.8" fill="url(#br)"/>
<circle cx="118.8" cy="298.4" r="1.8" fill="url(#br)"/>
<circle cx="123.0" cy="298.8" r="1.8" fill="url(#br)"/>
<circle cx="140.5" cy="277.4" r="1.8" fill="url(#br)"/>
<circle cx="144.7" cy="277.7" r="1.8" fill="url(#br)"/>
<circle cx="140.9" cy="298.4" r="1.8" fill="url(#br)"/>
<circle cx="144.3" cy="298.8" r="1.8" fill="url(#br)"/>
<circle cx="162.6" cy="277.4" r="1.8" fill="url(#br)"/>
<circle cx="165.9" cy="277.7" r="1.8" fill="url(#br)"/>
<circle cx="162.2" cy="298.4" r="1.8" fill="url(#br)"/>
<circle cx="166.3" cy="298.8" r="1.8" fill="url(#br)"/>
<circle cx="183.8" cy="277.4" r="1.8" fill="url(#br)"/>
<circle cx="188.0" cy="277.7" r="1.8" fill="url(#br)"/>
<circle cx="184.2" cy="298.4" r="1.8" fill="url(#br)"/>
<circle cx="187.6" cy="298.8" r="1.8" fill="url(#br)"/>
<circle cx="205.8" cy="277.4" r="1.8" fill="url(#br)"/>
<circle cx="209.2" cy="277.7" r="1.8" fill="url(#br)"/>
<circle cx="205.4" cy="298.4" r="1.8" fill="url(#br)"/>
<circle cx="209.6" cy="298.8" r="1.8" fill="url(#br)"/>
<circle cx="227.1" cy="277.4" r="1.8" fill="url(#br)"/>
<circle cx="231.3" cy="277.7" r="1.8" fill="url(#br)"/>
<circle cx="227.5" cy="298.4" r="1.8" fill="url(#br)"/>
<circle cx="230.9" cy="298.8" r="1.8" fill="url(#br)"/>
<circle cx="249.2" cy="277.4" r="1.8" fill="url(#br)"/>
<circle cx="252.5" cy="277.7" r="1.8" fill="url(#br)"/>
<circle cx="248.8" cy="298.4" r="1.8" fill="url(#br)"/>
<circle cx="252.9" cy="298.8" r="1.8" fill="url(#br)"/>
<circle cx="270.4" cy="277.4" r="1.8" fill="url(#br)"/>
<circle cx="274.6" cy="277.7" r="1.8" fill="url(#br)"/>
<circle cx="270.8" cy="298.4" r="1.8" fill="url(#br)"/>
<circle cx="274.2" cy="298.8" r="1.8" fill="url(#br)"/>
<circle cx="292.4" cy="277.4" r="1.8" fill="url(#br)"/>
<circle cx="295.8" cy="277.7" r="1.8" fill="url(#br)"/>
<circle cx="292.0" cy="298.4" r="1.8" fill="url(#br)"/>
<circle cx="296.2" cy="298.8" r="1.8" fill="url(#br)"/>
<circle cx="313.7" cy="277.4" r="1.8" fill="url(#br)"/>
<circle cx="317.9" cy="277.7" r="1.8" fill="url(#br)"/>
<circle cx="314.1" cy="298.4" r="1.8" fill="url(#br)"/>
<circle cx="317.5" cy="298.8" r="1.8" fill="url(#br)"/>
<circle cx="56.0" cy="266.7" r="2.8" fill="url(#pb)"/>
<circle cx="56.4" cy="267.7" r="1.0" fill="#c98555"/>
<circle cx="56.0" cy="288.0" r="2.8" fill="url(#pb)"/>
<circle cx="56.4" cy="289.0" r="1.0" fill="#c98555"/>
<circle cx="56.0" cy="308.9" r="2.8" fill="url(#pb)"/>
<circle cx="56.4" cy="309.9" r="1.0" fill="#c98555"/>
<circle cx="77.7" cy="266.7" r="2.8" fill="url(#pb)"/>
<circle cx="78.1" cy="267.7" r="1.0" fill="#c98555"/>
<circle cx="77.7" cy="288.0" r="2.8" fill="url(#pb)"/>
<circle cx="78.1" cy="289.0" r="1.0" fill="#c98555"/>
<circle cx="77.7" cy="308.9" r="2.8" fill="url(#pb)"/>
<circle cx="78.1" cy="309.9" r="1.0" fill="#c98555"/>
<circle cx="99.3" cy="266.7" r="2.8" fill="url(#pb)"/>
<circle cx="99.7" cy="267.7" r="1.0" fill="#c98555"/>
<circle cx="99.3" cy="288.0" r="2.8" fill="url(#pb)"/>
<circle cx="99.7" cy="289.0" r="1.0" fill="#c98555"/>
<circle cx="99.3" cy="308.9" r="2.8" fill="url(#pb)"/>
<circle cx="99.7" cy="309.9" r="1.0" fill="#c98555"/>
<circle cx="120.9" cy="266.7" r="2.8" fill="url(#pb)"/>
<circle cx="121.3" cy="267.7" r="1.0" fill="#c98555"/>
<circle cx="120.9" cy="288.0" r="2.8" fill="url(#pb)"/>
<circle cx="121.3" cy="289.0" r="1.0" fill="#c98555"/>
<circle cx="120.9" cy="308.9" r="2.8" fill="url(#pb)"/>
<circle cx="121.3" cy="309.9" r="1.0" fill="#c98555"/>
<circle cx="142.6" cy="266.7" r="2.8" fill="url(#pb)"/>
<circle cx="143.0" cy="267.7" r="1.0" fill="#c98555"/>
<circle cx="142.6" cy="288.0" r="2.8" fill="url(#pb)"/>
<circle cx="143.0" cy="289.0" r="1.0" fill="#c98555"/>
<circle cx="142.6" cy="308.9" r="2.8" fill="url(#pb)"/>
<circle cx="143.0" cy="309.9" r="1.0" fill="#c98555"/>
<circle cx="164.2" cy="266.7" r="2.8" fill="url(#pb)"/>
<circle cx="164.7" cy="267.7" r="1.0" fill="#c98555"/>
<circle cx="164.2" cy="288.0" r="2.8" fill="url(#pb)"/>
<circle cx="164.7" cy="289.0" r="1.0" fill="#c98555"/>
<circle cx="164.2" cy="308.9" r="2.8" fill="url(#pb)"/>
<circle cx="164.7" cy="309.9" r="1.0" fill="#c98555"/>
<circle cx="185.9" cy="266.7" r="2.8" fill="url(#pb)"/>
<circle cx="186.3" cy="267.7" r="1.0" fill="#c98555"/>
<circle cx="185.9" cy="288.0" r="2.8" fill="url(#pb)"/>
<circle cx="186.3" cy="289.0" r="1.0" fill="#c98555"/>
<circle cx="185.9" cy="308.9" r="2.8" fill="url(#pb)"/>
<circle cx="186.3" cy="309.9" r="1.0" fill="#c98555"/>
<circle cx="207.5" cy="266.7" r="2.8" fill="url(#pb)"/>
<circle cx="207.9" cy="267.7" r="1.0" fill="#c98555"/>
<circle cx="207.5" cy="288.0" r="2.8" fill="url(#pb)"/>
<circle cx="207.9" cy="289.0" r="1.0" fill="#c98555"/>
<circle cx="207.5" cy="308.9" r="2.8" fill="url(#pb)"/>
<circle cx="207.9" cy="309.9" r="1.0" fill="#c98555"/>
<circle cx="229.2" cy="266.7" r="2.8" fill="url(#pb)"/>
<circle cx="229.6" cy="267.7" r="1.0" fill="#c98555"/>
<circle cx="229.2" cy="288.0" r="2.8" fill="url(#pb)"/>
<circle cx="229.6" cy="289.0" r="1.0" fill="#c98555"/>
<circle cx="229.2" cy="308.9" r="2.8" fill="url(#pb)"/>
<circle cx="229.6" cy="309.9" r="1.0" fill="#c98555"/>
<circle cx="250.8" cy="266.7" r="2.8" fill="url(#pb)"/>
<circle cx="251.2" cy="267.7" r="1.0" fill="#c98555"/>
<circle cx="250.8" cy="288.0" r="2.8" fill="url(#pb)"/>
<circle cx="251.2" cy="289.0" r="1.0" fill="#c98555"/>
<circle cx="250.8" cy="308.9" r="2.8" fill="url(#pb)"/>
<circle cx="251.2" cy="309.9" r="1.0" fill="#c98555"/>
<circle cx="272.5" cy="266.7" r="2.8" fill="url(#pb)"/>
<circle cx="272.9" cy="267.7" r="1.0" fill="#c98555"/>
<circle cx="272.5" cy="288.0" r="2.8" fill="url(#pb)"/>
<circle cx="272.9" cy="289.0" r="1.0" fill="#c98555"/>
<circle cx="272.5" cy="308.9" r="2.8" fill="url(#pb)"/>
<circle cx="272.9" cy="309.9" r="1.0" fill="#c98555"/>
<circle cx="294.1" cy="266.7" r="2.8" fill="url(#pb)"/>
<circle cx="294.5" cy="267.7" r="1.0" fill="#c98555"/>
<circle cx="294.1" cy="288.0" r="2.8" fill="url(#pb)"/>
<circle cx="294.5" cy="289.0" r="1.0" fill="#c98555"/>
<circle cx="294.1" cy="308.9" r="2.8" fill="url(#pb)"/>
<circle cx="294.5" cy="309.9" r="1.0" fill="#c98555"/>
<circle cx="315.8" cy="266.7" r="2.8" fill="url(#pb)"/>
<circle cx="316.2" cy="267.7" r="1.0" fill="#c98555"/>
<circle cx="315.8" cy="288.0" r="2.8" fill="url(#pb)"/>
<circle cx="316.2" cy="289.0" r="1.0" fill="#c98555"/>
<circle cx="315.8" cy="308.9" r="2.8" fill="url(#pb)"/>
<circle cx="316.2" cy="309.9" r="1.0" fill="#c98555"/>
<path d="M76.4,251.7 L87.1,256.8" fill="none" stroke="#7b4a2c" stroke-width="2.6" stroke-linecap="round" stroke-linejoin="round" opacity="1"/>
<g opacity="1">
<line x1="73.2" y1="251.1" x2="74.8" y2="251.4" stroke="#a9b3e6" stroke-width="1.1"/>
<line x1="74.8" y1="251.4" x2="76.4" y2="251.7" stroke="#8b5a3c" stroke-width="1.1"/>
<line x1="87.1" y1="256.8" x2="88.7" y2="257.8" stroke="#8b5a3c" stroke-width="1.1"/>
<line x1="88.7" y1="257.8" x2="90.2" y2="258.7" stroke="#8b5a3c" stroke-width="1.1"/>
<line x1="90.2" y1="258.7" x2="92.4" y2="257.1" stroke="#8b5a3c" stroke-width="1.1"/>
<line x1="92.4" y1="257.1" x2="94.6" y2="255.5" stroke="#8b5a3c" stroke-width="1.1"/>
<line x1="94.6" y1="255.5" x2="97.2" y2="257.1" stroke="#8b5a3c" stroke-width="1.1"/>
<line x1="97.2" y1="257.1" x2="99.7" y2="258.7" stroke="#7fd0cf" stroke-width="1.1"/>
<line x1="90.2" y1="258.7" x2="90.2" y2="260.2" stroke="#8b5a3c" stroke-width="1.1"/>
<line x1="90.2" y1="260.2" x2="90.2" y2="261.8" stroke="#ecd3ca" stroke-width="0.7"/>
<line x1="94.6" y1="255.5" x2="94.9" y2="253.9" stroke="#8b5a3c" stroke-width="1.1"/>
<line x1="94.9" y1="253.9" x2="95.3" y2="252.4" stroke="#ecd3ca" stroke-width="0.7"/>
<line x1="99.7" y1="258.7" x2="101.0" y2="257.4" stroke="#7fd0cf" stroke-width="1.1"/>
<line x1="101.0" y1="257.4" x2="102.2" y2="256.2" stroke="#ecd3ca" stroke-width="0.7"/>
<line x1="76.4" y1="251.7" x2="78.5" y2="251.6" stroke="#8b5a3c" stroke-width="1.1"/>
<line x1="78.5" y1="251.6" x2="80.5" y2="251.6" stroke="#ecd3ca" stroke-width="0.7"/>
<line x1="87.1" y1="256.8" x2="85.0" y2="256.9" stroke="#8b5a3c" stroke-width="1.1"/>
<line x1="85.0" y1="256.9" x2="83.0" y2="257.0" stroke="#ecd3ca" stroke-width="0.7"/>
<circle cx="73.2" cy="251.1" r="1.2" fill="#a9b3e6"/>
<circle cx="76.4" cy="251.7" r="1.25" fill="#8b5a3c"/>
<circle cx="87.1" cy="256.8" r="1.25" fill="#8b5a3c"/>
<circle cx="90.2" cy="258.7" r="1.25" fill="#8b5a3c"/>
<circle cx="94.6" cy="255.5" r="1.25" fill="#8b5a3c"/>
<circle cx="99.7" cy="258.7" r="1.45" fill="#7fd0cf"/>
<circle cx="90.2" cy="261.8" r="0.95" fill="#ecd3ca"/>
<circle cx="95.3" cy="252.4" r="0.95" fill="#ecd3ca"/>
<circle cx="102.2" cy="256.2" r="0.95" fill="#ecd3ca"/>
<circle cx="80.5" cy="251.6" r="0.95" fill="#ecd3ca"/>
<circle cx="83.0" cy="257.0" r="0.95" fill="#ecd3ca"/>
</g>
<path d="M99.7,258.7 L99.7,263.4" fill="none" stroke="#7fd0cf" stroke-width="1.3" stroke-linecap="round" stroke-linejoin="round" opacity="1"/>
<g opacity="1">
<line x1="113.5" y1="248.6" x2="111.6" y2="251.1" stroke="#8b5a3c" stroke-width="1.1"/>
<line x1="111.6" y1="251.1" x2="109.7" y2="253.6" stroke="#8b5a3c" stroke-width="1.1"/>
<line x1="109.7" y1="253.6" x2="112.0" y2="255.8" stroke="#8b5a3c" stroke-width="1.1"/>
<line x1="112.0" y1="255.8" x2="114.2" y2="258.0" stroke="#7fd0cf" stroke-width="1.1"/>
<line x1="113.5" y1="248.6" x2="112.0" y2="246.7" stroke="#8b5a3c" stroke-width="1.1"/>
<line x1="112.0" y1="246.7" x2="110.4" y2="244.8" stroke="#ecd3ca" stroke-width="0.7"/>
<line x1="113.5" y1="248.6" x2="114.8" y2="247.9" stroke="#8b5a3c" stroke-width="1.1"/>
<line x1="114.8" y1="247.9" x2="116.0" y2="247.3" stroke="#ecd3ca" stroke-width="0.7"/>
<line x1="109.7" y1="253.6" x2="108.2" y2="253.3" stroke="#8b5a3c" stroke-width="1.1"/>
<line x1="108.2" y1="253.3" x2="106.6" y2="253.0" stroke="#ecd3ca" stroke-width="0.7"/>
<line x1="109.7" y1="253.6" x2="108.8" y2="254.7" stroke="#8b5a3c" stroke-width="1.1"/>
<line x1="108.8" y1="254.7" x2="107.9" y2="255.8" stroke="#ecd3ca" stroke-width="0.7"/>
<line x1="114.2" y1="258.0" x2="115.8" y2="257.1" stroke="#7fd0cf" stroke-width="1.1"/>
<line x1="115.8" y1="257.1" x2="117.3" y2="256.2" stroke="#ecd3ca" stroke-width="0.7"/>
<line x1="114.2" y1="258.0" x2="113.8" y2="259.6" stroke="#7fd0cf" stroke-width="1.1"/>
<line x1="113.8" y1="259.6" x2="113.5" y2="261.2" stroke="#ecd3ca" stroke-width="0.7"/>
<circle cx="113.5" cy="248.6" r="1.25" fill="#8b5a3c"/>
<circle cx="109.7" cy="253.6" r="1.25" fill="#8b5a3c"/>
<circle cx="114.2" cy="258.0" r="1.45" fill="#7fd0cf"/>
<circle cx="110.4" cy="244.8" r="0.95" fill="#ecd3ca"/>
<circle cx="116.0" cy="247.3" r="0.95" fill="#ecd3ca"/>
<circle cx="106.6" cy="253.0" r="0.95" fill="#ecd3ca"/>
<circle cx="107.9" cy="255.8" r="0.95" fill="#ecd3ca"/>
<circle cx="117.3" cy="256.2" r="0.95" fill="#ecd3ca"/>
<circle cx="113.5" cy="261.2" r="0.95" fill="#ecd3ca"/>
</g>
<g opacity="0.9">
<line x1="131.2" y1="245.4" x2="129.9" y2="248.6" stroke="#8b5a3c" stroke-width="1.1"/>
<line x1="129.9" y1="248.6" x2="128.6" y2="251.7" stroke="#8b5a3c" stroke-width="1.1"/>
<line x1="128.6" y1="251.7" x2="131.1" y2="253.3" stroke="#8b5a3c" stroke-width="1.1"/>
<line x1="131.1" y1="253.3" x2="133.7" y2="254.9" stroke="#7fd0cf" stroke-width="1.1"/>
<line x1="131.2" y1="245.4" x2="129.3" y2="243.9" stroke="#8b5a3c" stroke-width="1.1"/>
<line x1="129.3" y1="243.9" x2="127.4" y2="242.3" stroke="#ecd3ca" stroke-width="0.7"/>
<line x1="131.2" y1="245.4" x2="132.8" y2="244.8" stroke="#8b5a3c" stroke-width="1.1"/>
<line x1="132.8" y1="244.8" x2="134.3" y2="244.2" stroke="#ecd3ca" stroke-width="0.7"/>
<line x1="128.6" y1="251.7" x2="126.8" y2="251.7" stroke="#8b5a3c" stroke-width="1.1"/>
<line x1="126.8" y1="251.7" x2="124.9" y2="251.7" stroke="#ecd3ca" stroke-width="0.7"/>
<line x1="128.6" y1="251.7" x2="128.3" y2="253.3" stroke="#8b5a3c" stroke-width="1.1"/>
<line x1="128.3" y1="253.3" x2="128.0" y2="254.9" stroke="#ecd3ca" stroke-width="0.7"/>
<line x1="133.7" y1="254.9" x2="135.2" y2="253.7" stroke="#7fd0cf" stroke-width="1.1"/>
<line x1="135.2" y1="253.7" x2="136.8" y2="252.4" stroke="#ecd3ca" stroke-width="0.7"/>
<line x1="133.7" y1="254.9" x2="133.7" y2="256.8" stroke="#7fd0cf" stroke-width="1.1"/>
<line x1="133.7" y1="256.8" x2="133.7" y2="258.7" stroke="#ecd3ca" stroke-width="0.7"/>
<circle cx="131.2" cy="245.4" r="1.25" fill="#8b5a3c"/>
<circle cx="128.6" cy="251.7" r="1.25" fill="#8b5a3c"/>
<circle cx="133.7" cy="254.9" r="1.45" fill="#7fd0cf"/>
<circle cx="127.4" cy="242.3" r="0.95" fill="#ecd3ca"/>
<circle cx="134.3" cy="244.2" r="0.95" fill="#ecd3ca"/>
<circle cx="124.9" cy="251.7" r="0.95" fill="#ecd3ca"/>
<circle cx="128.0" cy="254.9" r="0.95" fill="#ecd3ca"/>
<circle cx="136.8" cy="252.4" r="0.95" fill="#ecd3ca"/>
<circle cx="133.7" cy="258.7" r="0.95" fill="#ecd3ca"/>
</g>
<g opacity="0.4">
<line x1="148.8" y1="241.7" x2="147.9" y2="244.8" stroke="#8b5a3c" stroke-width="1.1"/>
<line x1="147.9" y1="244.8" x2="146.9" y2="248.0" stroke="#8b5a3c" stroke-width="1.1"/>
<line x1="146.9" y1="248.0" x2="150.4" y2="249.2" stroke="#8b5a3c" stroke-width="1.1"/>
<line x1="150.4" y1="249.2" x2="153.8" y2="250.5" stroke="#7fd0cf" stroke-width="1.1"/>
<line x1="148.8" y1="241.7" x2="147.2" y2="240.1" stroke="#8b5a3c" stroke-width="1.1"/>
<line x1="147.2" y1="240.1" x2="145.6" y2="238.6" stroke="#ecd3ca" stroke-width="0.7"/>
<line x1="148.8" y1="241.7" x2="150.2" y2="240.4" stroke="#8b5a3c" stroke-width="1.1"/>
<line x1="150.2" y1="240.4" x2="151.6" y2="239.2" stroke="#ecd3ca" stroke-width="0.7"/>
<line x1="146.9" y1="248.0" x2="145.2" y2="248.2" stroke="#8b5a3c" stroke-width="1.1"/>
<line x1="145.2" y1="248.2" x2="143.6" y2="248.4" stroke="#ecd3ca" stroke-width="0.7"/>
<line x1="153.8" y1="250.5" x2="155.2" y2="249.2" stroke="#7fd0cf" stroke-width="1.1"/>
<line x1="155.2" y1="249.2" x2="156.6" y2="247.8" stroke="#ecd3ca" stroke-width="0.7"/>
<line x1="153.8" y1="250.5" x2="154.2" y2="252.2" stroke="#7fd0cf" stroke-width="1.1"/>
<line x1="154.2" y1="252.2" x2="154.6" y2="253.8" stroke="#ecd3ca" stroke-width="0.7"/>
<circle cx="148.8" cy="241.7" r="1.25" fill="#8b5a3c"/>
<circle cx="146.9" cy="248.0" r="1.25" fill="#8b5a3c"/>
<circle cx="153.8" cy="250.5" r="1.45" fill="#7fd0cf"/>
<circle cx="145.6" cy="238.6" r="0.95" fill="#ecd3ca"/>
<circle cx="151.6" cy="239.2" r="0.95" fill="#ecd3ca"/>
<circle cx="143.6" cy="248.4" r="0.95" fill="#ecd3ca"/>
<circle cx="156.6" cy="247.8" r="0.95" fill="#ecd3ca"/>
<circle cx="154.6" cy="253.8" r="0.95" fill="#ecd3ca"/>
</g>
<path d="M123.0,263.1 L147.2,259.3" stroke="#2f9b78" stroke-width="1.5" stroke-dasharray="3.2,1.7" fill="none"/>
<path d="M152.8,258.4 L146.6,256.9 L147.6,261.6 Z" fill="#2f9b78"/>
<path d="M206.8,251.2 L217.2,256.1" fill="none" stroke="#7b4a2c" stroke-width="2.6" stroke-linecap="round" stroke-linejoin="round" opacity="1"/>
<g opacity="1">
<line x1="203.3" y1="250.3" x2="205.1" y2="250.8" stroke="#a9b3e6" stroke-width="1.1"/>
<line x1="205.1" y1="250.8" x2="206.8" y2="251.2" stroke="#8b5a3c" stroke-width="1.1"/>
<line x1="217.2" y1="256.1" x2="218.9" y2="257.1" stroke="#8b5a3c" stroke-width="1.1"/>
<line x1="218.9" y1="257.1" x2="220.6" y2="258.2" stroke="#8b5a3c" stroke-width="1.1"/>
<line x1="220.6" y1="258.2" x2="222.7" y2="256.8" stroke="#8b5a3c" stroke-width="1.1"/>
<line x1="222.7" y1="256.8" x2="224.8" y2="255.4" stroke="#8b5a3c" stroke-width="1.1"/>
<line x1="224.8" y1="255.4" x2="226.6" y2="256.6" stroke="#8b5a3c" stroke-width="1.1"/>
<line x1="226.6" y1="256.6" x2="228.3" y2="257.9" stroke="#7fd0cf" stroke-width="1.1"/>
<line x1="220.6" y1="258.2" x2="220.6" y2="259.9" stroke="#8b5a3c" stroke-width="1.1"/>
<line x1="220.6" y1="259.9" x2="220.6" y2="261.6" stroke="#ecd3ca" stroke-width="0.7"/>
<line x1="224.8" y1="255.4" x2="224.8" y2="253.9" stroke="#8b5a3c" stroke-width="1.1"/>
<line x1="224.8" y1="253.9" x2="224.8" y2="252.3" stroke="#ecd3ca" stroke-width="0.7"/>
<line x1="228.3" y1="257.9" x2="229.4" y2="257.6" stroke="#7fd0cf" stroke-width="1.1"/>
<line x1="229.4" y1="257.6" x2="230.4" y2="257.3" stroke="#d8342a" stroke-width="1.1"/>
<line x1="230.4" y1="257.3" x2="231.1" y2="253.6" stroke="#d8342a" stroke-width="1.1"/>
<line x1="231.1" y1="253.6" x2="231.7" y2="249.9" stroke="#8b5a3c" stroke-width="1.1"/>
<line x1="231.7" y1="249.9" x2="229.9" y2="249.2" stroke="#8b5a3c" stroke-width="1.1"/>
<line x1="229.9" y1="249.2" x2="228.2" y2="248.5" stroke="#a9b3e6" stroke-width="1.1"/>
<line x1="231.7" y1="249.9" x2="232.8" y2="248.5" stroke="#8b5a3c" stroke-width="1.1"/>
<line x1="232.8" y1="248.5" x2="233.8" y2="247.1" stroke="#a9b3e6" stroke-width="1.1"/>
<line x1="231.7" y1="249.9" x2="232.8" y2="250.2" stroke="#8b5a3c" stroke-width="1.1"/>
<line x1="232.8" y1="250.2" x2="233.8" y2="250.5" stroke="#a9b3e6" stroke-width="1.1"/>
<line x1="206.8" y1="251.2" x2="208.7" y2="250.9" stroke="#8b5a3c" stroke-width="1.1"/>
<line x1="208.7" y1="250.9" x2="210.6" y2="250.6" stroke="#ecd3ca" stroke-width="0.7"/>
<line x1="217.2" y1="256.1" x2="215.2" y2="256.4" stroke="#8b5a3c" stroke-width="1.1"/>
<line x1="215.2" y1="256.4" x2="213.2" y2="256.6" stroke="#ecd3ca" stroke-width="0.7"/>
<circle cx="203.3" cy="250.3" r="1.2" fill="#a9b3e6"/>
<circle cx="206.8" cy="251.2" r="1.25" fill="#8b5a3c"/>
<circle cx="217.2" cy="256.1" r="1.25" fill="#8b5a3c"/>
<circle cx="220.6" cy="258.2" r="1.25" fill="#8b5a3c"/>
<circle cx="224.8" cy="255.4" r="1.25" fill="#8b5a3c"/>
<circle cx="228.3" cy="257.9" r="1.45" fill="#7fd0cf"/>
<circle cx="220.6" cy="261.6" r="0.95" fill="#ecd3ca"/>
<circle cx="224.8" cy="252.3" r="0.95" fill="#ecd3ca"/>
<circle cx="230.4" cy="257.3" r="1.25" fill="#d8342a"/>
<circle cx="231.7" cy="249.9" r="1.25" fill="#8b5a3c"/>
<circle cx="228.2" cy="248.5" r="1.2" fill="#a9b3e6"/>
<circle cx="233.8" cy="247.1" r="1.2" fill="#a9b3e6"/>
<circle cx="233.8" cy="250.5" r="1.2" fill="#a9b3e6"/>
<circle cx="210.6" cy="250.6" r="0.95" fill="#ecd3ca"/>
<circle cx="213.2" cy="256.6" r="0.95" fill="#ecd3ca"/>
</g>
<path d="M228.5,258.6 L228.5,263.2" fill="none" stroke="#d8342a" stroke-width="1.4" stroke-linecap="round" stroke-linejoin="round" opacity="1"/>
<g opacity="1">
<line x1="251.1" y1="245.7" x2="248.3" y2="247.8" stroke="#8b5a3c" stroke-width="1.1"/>
<line x1="248.3" y1="247.8" x2="245.6" y2="249.9" stroke="#8b5a3c" stroke-width="1.1"/>
<line x1="245.6" y1="249.9" x2="245.6" y2="253.0" stroke="#8b5a3c" stroke-width="1.1"/>
<line x1="245.6" y1="253.0" x2="245.6" y2="256.1" stroke="#7fd0cf" stroke-width="1.1"/>
<line x1="251.1" y1="245.7" x2="251.1" y2="243.9" stroke="#8b5a3c" stroke-width="1.1"/>
<line x1="251.1" y1="243.9" x2="251.1" y2="242.2" stroke="#ecd3ca" stroke-width="0.7"/>
<line x1="251.1" y1="245.7" x2="252.8" y2="247.4" stroke="#8b5a3c" stroke-width="1.1"/>
<line x1="252.8" y1="247.4" x2="254.6" y2="249.2" stroke="#ecd3ca" stroke-width="0.7"/>
<line x1="245.6" y1="249.9" x2="243.8" y2="248.9" stroke="#8b5a3c" stroke-width="1.1"/>
<line x1="243.8" y1="248.9" x2="242.1" y2="247.8" stroke="#ecd3ca" stroke-width="0.7"/>
<line x1="245.6" y1="256.1" x2="244.2" y2="257.5" stroke="#7fd0cf" stroke-width="1.1"/>
<line x1="244.2" y1="257.5" x2="242.8" y2="258.9" stroke="#ecd3ca" stroke-width="0.7"/>
<line x1="245.6" y1="256.1" x2="247.3" y2="256.5" stroke="#7fd0cf" stroke-width="1.1"/>
<line x1="247.3" y1="256.5" x2="249.0" y2="256.8" stroke="#ecd3ca" stroke-width="0.7"/>
<circle cx="251.1" cy="245.7" r="1.25" fill="#8b5a3c"/>
<circle cx="245.6" cy="249.9" r="1.25" fill="#8b5a3c"/>
<circle cx="245.6" cy="256.1" r="1.45" fill="#7fd0cf"/>
<circle cx="251.1" cy="242.2" r="0.95" fill="#ecd3ca"/>
<circle cx="254.6" cy="249.2" r="0.95" fill="#ecd3ca"/>
<circle cx="242.1" cy="247.8" r="0.95" fill="#ecd3ca"/>
<circle cx="242.8" cy="258.9" r="0.95" fill="#ecd3ca"/>
<circle cx="249.0" cy="256.8" r="0.95" fill="#ecd3ca"/>
</g>
<g opacity="0.9">
<line x1="272.6" y1="248.5" x2="269.5" y2="249.5" stroke="#8b5a3c" stroke-width="1.1"/>
<line x1="269.5" y1="249.5" x2="266.4" y2="250.5" stroke="#8b5a3c" stroke-width="1.1"/>
<line x1="266.4" y1="250.5" x2="266.4" y2="253.7" stroke="#8b5a3c" stroke-width="1.1"/>
<line x1="266.4" y1="253.7" x2="266.4" y2="256.8" stroke="#7fd0cf" stroke-width="1.1"/>
<line x1="272.6" y1="248.5" x2="272.6" y2="246.8" stroke="#8b5a3c" stroke-width="1.1"/>
<line x1="272.6" y1="246.8" x2="272.6" y2="245.0" stroke="#ecd3ca" stroke-width="0.7"/>
<line x1="272.6" y1="248.5" x2="273.6" y2="249.5" stroke="#8b5a3c" stroke-width="1.1"/>
<line x1="273.6" y1="249.5" x2="274.7" y2="250.5" stroke="#ecd3ca" stroke-width="0.7"/>
<line x1="266.4" y1="250.5" x2="265.0" y2="249.8" stroke="#8b5a3c" stroke-width="1.1"/>
<line x1="265.0" y1="249.8" x2="263.6" y2="249.2" stroke="#ecd3ca" stroke-width="0.7"/>
<line x1="266.4" y1="256.8" x2="264.6" y2="256.8" stroke="#7fd0cf" stroke-width="1.1"/>
<line x1="264.6" y1="256.8" x2="262.9" y2="256.8" stroke="#ecd3ca" stroke-width="0.7"/>
<line x1="266.4" y1="256.8" x2="268.1" y2="257.1" stroke="#7fd0cf" stroke-width="1.1"/>
<line x1="268.1" y1="257.1" x2="269.8" y2="257.5" stroke="#ecd3ca" stroke-width="0.7"/>
<circle cx="272.6" cy="248.5" r="1.25" fill="#8b5a3c"/>
<circle cx="266.4" cy="250.5" r="1.25" fill="#8b5a3c"/>
<circle cx="266.4" cy="256.8" r="1.45" fill="#7fd0cf"/>
<circle cx="272.6" cy="245.0" r="0.95" fill="#ecd3ca"/>
<circle cx="274.7" cy="250.5" r="0.95" fill="#ecd3ca"/>
<circle cx="263.6" cy="249.2" r="0.95" fill="#ecd3ca"/>
<circle cx="262.9" cy="256.8" r="0.95" fill="#ecd3ca"/>
<circle cx="269.8" cy="257.5" r="0.95" fill="#ecd3ca"/>
</g>
<g opacity="0.4">
<line x1="294.8" y1="250.5" x2="291.6" y2="251.9" stroke="#8b5a3c" stroke-width="1.1"/>
<line x1="291.6" y1="251.9" x2="288.5" y2="253.3" stroke="#8b5a3c" stroke-width="1.1"/>
<line x1="288.5" y1="253.3" x2="288.7" y2="256.8" stroke="#8b5a3c" stroke-width="1.1"/>
<line x1="288.7" y1="256.8" x2="288.9" y2="260.2" stroke="#7fd0cf" stroke-width="1.1"/>
<line x1="294.8" y1="250.5" x2="294.8" y2="248.8" stroke="#8b5a3c" stroke-width="1.1"/>
<line x1="294.8" y1="248.8" x2="294.8" y2="247.0" stroke="#ecd3ca" stroke-width="0.7"/>
<line x1="294.8" y1="250.5" x2="295.8" y2="251.6" stroke="#8b5a3c" stroke-width="1.1"/>
<line x1="295.8" y1="251.6" x2="296.8" y2="252.6" stroke="#ecd3ca" stroke-width="0.7"/>
<line x1="288.5" y1="253.3" x2="286.8" y2="252.9" stroke="#8b5a3c" stroke-width="1.1"/>
<line x1="286.8" y1="252.9" x2="285.0" y2="252.6" stroke="#ecd3ca" stroke-width="0.7"/>
<line x1="288.9" y1="260.2" x2="287.4" y2="261.1" stroke="#7fd0cf" stroke-width="1.1"/>
<line x1="287.4" y1="261.1" x2="286.0" y2="262.0" stroke="#ecd3ca" stroke-width="0.7"/>
<line x1="288.9" y1="260.2" x2="290.4" y2="260.6" stroke="#7fd0cf" stroke-width="1.1"/>
<line x1="290.4" y1="260.6" x2="292.0" y2="261.0" stroke="#ecd3ca" stroke-width="0.7"/>
<circle cx="294.8" cy="250.5" r="1.25" fill="#8b5a3c"/>
<circle cx="288.5" cy="253.3" r="1.25" fill="#8b5a3c"/>
<circle cx="288.9" cy="260.2" r="1.45" fill="#7fd0cf"/>
<circle cx="294.8" cy="247.0" r="0.95" fill="#ecd3ca"/>
<circle cx="296.8" cy="252.6" r="0.95" fill="#ecd3ca"/>
<circle cx="285.0" cy="252.6" r="0.95" fill="#ecd3ca"/>
<circle cx="286.0" cy="262.0" r="0.95" fill="#ecd3ca"/>
<circle cx="292.0" cy="261.0" r="0.95" fill="#ecd3ca"/>
</g>
<path d="M253.2,258.9 L277.6,262.0" stroke="#f0551f" stroke-width="1.5" stroke-dasharray="3.2,1.7" fill="none"/>
<path d="M282.8,262.4 L277.4,264.6 L277.9,259.8 Z" fill="#f0551f"/>
<defs><radialGradient id="lbr"><stop offset="0" stop-color="#f6dcc2"/><stop offset="0.35" stop-color="#e3a574"/><stop offset="1" stop-color="#c78a5f"/></radialGradient><radialGradient id="lpb"><stop offset="0" stop-color="#c9cad0"/><stop offset="0.3" stop-color="#80818b"/><stop offset="1" stop-color="#74757f"/></radialGradient><radialGradient id="lcs"><stop offset="0" stop-color="#fbe6ea"/><stop offset="0.3" stop-color="#d97c8d"/><stop offset="1" stop-color="#c9667a"/></radialGradient></defs>
<circle cx="335.3" cy="278.3" r="3.0" fill="url(#lbr)"/>
<circle cx="335.4" cy="290.4" r="3.4" fill="url(#lpb)"/>
<circle cx="335.4" cy="301.4" r="4.0" fill="url(#lcs)"/>
<text x="342.00" y="282.00" font-size="8.5" text-anchor="start" fill="#222"  stroke="#222" stroke-width="0.22">Br</text>
<text x="341.60" y="293.90" font-size="8.5" text-anchor="start" fill="#222"  stroke="#222" stroke-width="0.22">Pb</text>
<text x="341.60" y="304.00" font-size="8.5" text-anchor="start" fill="#222"  stroke="#222" stroke-width="0.22">Cs</text>
<text x="392.50" y="282.50" font-size="8.4" text-anchor="start" fill="#222"  stroke="#222" stroke-width="0.22" textLength="14.4" lengthAdjust="spacingAndGlyphs">PEA</text>
<text x="392.50" y="303.90" font-size="8.4" text-anchor="start" fill="#222"  stroke="#222" stroke-width="0.22" textLength="9.7" lengthAdjust="spacingAndGlyphs">EA</text>
<text x="452.70" y="282.00" font-size="8.5" text-anchor="start" fill="#222"  stroke="#222" stroke-width="0.22" textLength="22.4" lengthAdjust="spacingAndGlyphs">F-PEA</text>
<text x="452.70" y="303.70" font-size="8.5" text-anchor="start" fill="#222"  stroke="#222" stroke-width="0.22" textLength="13.4" lengthAdjust="spacingAndGlyphs">TFA</text>
<g opacity="1">
<line x1="362.8" y1="279.9" x2="364.0" y2="277.6" stroke="#8b5a3c" stroke-width="1.2"/>
<line x1="364.0" y1="277.6" x2="365.1" y2="275.4" stroke="#8b5a3c" stroke-width="1.2"/>
<line x1="365.1" y1="275.4" x2="367.6" y2="275.2" stroke="#8b5a3c" stroke-width="1.2"/>
<line x1="367.6" y1="275.2" x2="370.1" y2="275.1" stroke="#8b5a3c" stroke-width="1.2"/>
<line x1="370.1" y1="275.1" x2="371.1" y2="277.1" stroke="#8b5a3c" stroke-width="1.2"/>
<line x1="371.1" y1="277.1" x2="372.0" y2="279.2" stroke="#8b5a3c" stroke-width="1.2"/>
<line x1="372.0" y1="279.2" x2="370.9" y2="281.4" stroke="#8b5a3c" stroke-width="1.2"/>
<line x1="370.9" y1="281.4" x2="369.7" y2="283.6" stroke="#8b5a3c" stroke-width="1.2"/>
<line x1="369.7" y1="283.6" x2="367.2" y2="283.8" stroke="#8b5a3c" stroke-width="1.2"/>
<line x1="367.2" y1="283.8" x2="364.8" y2="283.9" stroke="#8b5a3c" stroke-width="1.2"/>
<line x1="364.8" y1="283.9" x2="363.8" y2="281.9" stroke="#8b5a3c" stroke-width="1.2"/>
<line x1="363.8" y1="281.9" x2="362.8" y2="279.9" stroke="#8b5a3c" stroke-width="1.2"/>
<line x1="362.8" y1="279.9" x2="361.5" y2="280.0" stroke="#8b5a3c" stroke-width="1.2"/>
<line x1="361.5" y1="280.0" x2="360.2" y2="280.1" stroke="#ecd3ca" stroke-width="0.7"/>
<line x1="365.1" y1="275.4" x2="364.5" y2="274.3" stroke="#8b5a3c" stroke-width="1.2"/>
<line x1="364.5" y1="274.3" x2="363.8" y2="273.1" stroke="#ecd3ca" stroke-width="0.7"/>
<line x1="370.1" y1="275.1" x2="370.8" y2="274.0" stroke="#8b5a3c" stroke-width="1.2"/>
<line x1="370.8" y1="274.0" x2="371.4" y2="272.9" stroke="#ecd3ca" stroke-width="0.7"/>
<line x1="369.7" y1="283.6" x2="370.3" y2="284.7" stroke="#8b5a3c" stroke-width="1.2"/>
<line x1="370.3" y1="284.7" x2="371.0" y2="285.9" stroke="#ecd3ca" stroke-width="0.7"/>
<line x1="364.8" y1="283.9" x2="364.1" y2="285.0" stroke="#8b5a3c" stroke-width="1.2"/>
<line x1="364.1" y1="285.0" x2="363.5" y2="286.1" stroke="#ecd3ca" stroke-width="0.7"/>
<line x1="372.0" y1="279.2" x2="374.9" y2="278.6" stroke="#8b5a3c" stroke-width="1.2"/>
<line x1="374.9" y1="278.6" x2="377.7" y2="278.0" stroke="#8b5a3c" stroke-width="1.2"/>
<line x1="377.7" y1="278.0" x2="379.2" y2="280.2" stroke="#8b5a3c" stroke-width="1.2"/>
<line x1="379.2" y1="280.2" x2="380.8" y2="282.4" stroke="#8b5a3c" stroke-width="1.2"/>
<line x1="380.8" y1="282.4" x2="383.0" y2="281.8" stroke="#8b5a3c" stroke-width="1.2"/>
<line x1="383.0" y1="281.8" x2="385.2" y2="281.1" stroke="#7fd0cf" stroke-width="1.2"/>
<circle cx="362.8" cy="279.9" r="1.25" fill="#8b5a3c"/>
<circle cx="365.1" cy="275.4" r="1.25" fill="#8b5a3c"/>
<circle cx="370.1" cy="275.1" r="1.25" fill="#8b5a3c"/>
<circle cx="372.0" cy="279.2" r="1.25" fill="#8b5a3c"/>
<circle cx="369.7" cy="283.6" r="1.25" fill="#8b5a3c"/>
<circle cx="364.8" cy="283.9" r="1.25" fill="#8b5a3c"/>
<circle cx="360.2" cy="280.1" r="0.95" fill="#ecd3ca"/>
<circle cx="363.8" cy="273.1" r="0.95" fill="#ecd3ca"/>
<circle cx="371.4" cy="272.9" r="0.95" fill="#ecd3ca"/>
<circle cx="371.0" cy="285.9" r="0.95" fill="#ecd3ca"/>
<circle cx="363.5" cy="286.1" r="0.95" fill="#ecd3ca"/>
<circle cx="377.7" cy="278.0" r="1.25" fill="#8b5a3c"/>
<circle cx="380.8" cy="282.4" r="1.25" fill="#8b5a3c"/>
<circle cx="385.2" cy="281.1" r="1.45" fill="#7fd0cf"/>
</g>
<circle cx="377.7" cy="275.4" r="0.9" fill="#ecd3ca"/>
<circle cx="380.2" cy="284.9" r="0.9" fill="#ecd3ca"/>
<circle cx="386.8" cy="279.2" r="0.9" fill="#ecd3ca"/>
<circle cx="384.0" cy="283.0" r="0.9" fill="#ecd3ca"/>
<g opacity="1">
<line x1="419.5" y1="277.1" x2="421.2" y2="275.5" stroke="#8b5a3c" stroke-width="1.2"/>
<line x1="421.2" y1="275.5" x2="423.0" y2="273.8" stroke="#8b5a3c" stroke-width="1.2"/>
<line x1="423.0" y1="273.8" x2="426.1" y2="274.5" stroke="#8b5a3c" stroke-width="1.2"/>
<line x1="426.1" y1="274.5" x2="429.1" y2="275.1" stroke="#8b5a3c" stroke-width="1.2"/>
<line x1="429.1" y1="275.1" x2="429.7" y2="277.1" stroke="#8b5a3c" stroke-width="1.2"/>
<line x1="429.7" y1="277.1" x2="430.3" y2="279.2" stroke="#8b5a3c" stroke-width="1.2"/>
<line x1="430.3" y1="279.2" x2="428.6" y2="281.1" stroke="#8b5a3c" stroke-width="1.2"/>
<line x1="428.6" y1="281.1" x2="426.8" y2="283.0" stroke="#8b5a3c" stroke-width="1.2"/>
<line x1="426.8" y1="283.0" x2="424.0" y2="282.4" stroke="#8b5a3c" stroke-width="1.2"/>
<line x1="424.0" y1="282.4" x2="421.1" y2="281.7" stroke="#8b5a3c" stroke-width="1.2"/>
<line x1="421.1" y1="281.7" x2="420.3" y2="279.4" stroke="#8b5a3c" stroke-width="1.2"/>
<line x1="420.3" y1="279.4" x2="419.5" y2="277.1" stroke="#8b5a3c" stroke-width="1.2"/>
<line x1="419.5" y1="277.1" x2="418.0" y2="276.6" stroke="#8b5a3c" stroke-width="1.2"/>
<line x1="418.0" y1="276.6" x2="416.5" y2="276.1" stroke="#a9b3e6" stroke-width="1.2"/>
<line x1="423.0" y1="273.8" x2="422.5" y2="272.6" stroke="#8b5a3c" stroke-width="1.2"/>
<line x1="422.5" y1="272.6" x2="422.0" y2="271.4" stroke="#ecd3ca" stroke-width="0.7"/>
<line x1="429.1" y1="275.1" x2="430.1" y2="274.3" stroke="#8b5a3c" stroke-width="1.2"/>
<line x1="430.1" y1="274.3" x2="431.2" y2="273.5" stroke="#ecd3ca" stroke-width="0.7"/>
<line x1="426.8" y1="283.0" x2="427.3" y2="284.2" stroke="#8b5a3c" stroke-width="1.2"/>
<line x1="427.3" y1="284.2" x2="427.7" y2="285.4" stroke="#ecd3ca" stroke-width="0.7"/>
<line x1="421.1" y1="281.7" x2="420.1" y2="282.6" stroke="#8b5a3c" stroke-width="1.2"/>
<line x1="420.1" y1="282.6" x2="419.1" y2="283.4" stroke="#ecd3ca" stroke-width="0.7"/>
<line x1="430.3" y1="279.2" x2="433.0" y2="280.1" stroke="#8b5a3c" stroke-width="1.2"/>
<line x1="433.0" y1="280.1" x2="435.6" y2="281.1" stroke="#8b5a3c" stroke-width="1.2"/>
<line x1="435.6" y1="281.1" x2="437.6" y2="278.9" stroke="#8b5a3c" stroke-width="1.2"/>
<line x1="437.6" y1="278.9" x2="439.6" y2="276.7" stroke="#8b5a3c" stroke-width="1.2"/>
<line x1="439.6" y1="276.7" x2="441.9" y2="277.6" stroke="#8b5a3c" stroke-width="1.2"/>
<line x1="441.9" y1="277.6" x2="444.2" y2="278.6" stroke="#7fd0cf" stroke-width="1.2"/>
<circle cx="419.5" cy="277.1" r="1.25" fill="#8b5a3c"/>
<circle cx="423.0" cy="273.8" r="1.25" fill="#8b5a3c"/>
<circle cx="429.1" cy="275.1" r="1.25" fill="#8b5a3c"/>
<circle cx="430.3" cy="279.2" r="1.25" fill="#8b5a3c"/>
<circle cx="426.8" cy="283.0" r="1.25" fill="#8b5a3c"/>
<circle cx="421.1" cy="281.7" r="1.25" fill="#8b5a3c"/>
<circle cx="416.5" cy="276.1" r="1.2" fill="#a9b3e6"/>
<circle cx="422.0" cy="271.4" r="0.95" fill="#ecd3ca"/>
<circle cx="431.2" cy="273.5" r="0.95" fill="#ecd3ca"/>
<circle cx="427.7" cy="285.4" r="0.95" fill="#ecd3ca"/>
<circle cx="419.1" cy="283.4" r="0.95" fill="#ecd3ca"/>
<circle cx="435.6" cy="281.1" r="1.25" fill="#8b5a3c"/>
<circle cx="439.6" cy="276.7" r="1.25" fill="#8b5a3c"/>
<circle cx="444.2" cy="278.6" r="1.45" fill="#7fd0cf"/>
</g>
<circle cx="435.4" cy="283.8" r="0.9" fill="#ecd3ca"/>
<circle cx="439.4" cy="274.0" r="0.9" fill="#ecd3ca"/>
<circle cx="446.4" cy="280.4" r="0.9" fill="#ecd3ca"/>
<circle cx="446.0" cy="277.0" r="0.9" fill="#ecd3ca"/>
<g opacity="1">
<line x1="368.9" y1="299.0" x2="371.4" y2="301.2" stroke="#8b5a3c" stroke-width="1.1"/>
<line x1="371.4" y1="301.2" x2="373.9" y2="303.5" stroke="#8b5a3c" stroke-width="1.1"/>
<line x1="373.9" y1="303.5" x2="376.1" y2="301.6" stroke="#8b5a3c" stroke-width="1.1"/>
<line x1="376.1" y1="301.6" x2="378.3" y2="299.8" stroke="#7fd0cf" stroke-width="1.1"/>
<line x1="368.9" y1="299.0" x2="367.3" y2="300.4" stroke="#8b5a3c" stroke-width="1.1"/>
<line x1="367.3" y1="300.4" x2="365.7" y2="301.9" stroke="#ecd3ca" stroke-width="0.7"/>
<line x1="368.9" y1="299.0" x2="368.5" y2="297.9" stroke="#8b5a3c" stroke-width="1.1"/>
<line x1="368.5" y1="297.9" x2="368.2" y2="296.9" stroke="#ecd3ca" stroke-width="0.7"/>
<line x1="373.9" y1="303.5" x2="373.9" y2="304.9" stroke="#8b5a3c" stroke-width="1.1"/>
<line x1="373.9" y1="304.9" x2="373.9" y2="306.3" stroke="#ecd3ca" stroke-width="0.7"/>
<line x1="373.9" y1="303.5" x2="372.6" y2="303.6" stroke="#8b5a3c" stroke-width="1.1"/>
<line x1="372.6" y1="303.6" x2="371.4" y2="303.8" stroke="#ecd3ca" stroke-width="0.7"/>
<line x1="378.3" y1="299.8" x2="377.9" y2="298.4" stroke="#7fd0cf" stroke-width="1.1"/>
<line x1="377.9" y1="298.4" x2="377.4" y2="296.9" stroke="#ecd3ca" stroke-width="0.7"/>
<line x1="378.3" y1="299.8" x2="380.0" y2="300.6" stroke="#7fd0cf" stroke-width="1.1"/>
<line x1="380.0" y1="300.6" x2="381.7" y2="301.3" stroke="#ecd3ca" stroke-width="0.7"/>
<circle cx="368.9" cy="299.0" r="1.25" fill="#8b5a3c"/>
<circle cx="373.9" cy="303.5" r="1.25" fill="#8b5a3c"/>
<circle cx="378.3" cy="299.8" r="1.45" fill="#7fd0cf"/>
<circle cx="365.7" cy="301.9" r="0.95" fill="#ecd3ca"/>
<circle cx="368.2" cy="296.9" r="0.95" fill="#ecd3ca"/>
<circle cx="373.9" cy="306.3" r="0.95" fill="#ecd3ca"/>
<circle cx="371.4" cy="303.8" r="0.95" fill="#ecd3ca"/>
<circle cx="377.4" cy="296.9" r="0.95" fill="#ecd3ca"/>
<circle cx="381.7" cy="301.3" r="0.95" fill="#ecd3ca"/>
</g>
<g opacity="1">
<line x1="424.9" y1="300.0" x2="427.8" y2="299.9" stroke="#8b5a3c" stroke-width="1.2"/>
<line x1="427.8" y1="299.9" x2="430.6" y2="299.8" stroke="#8b5a3c" stroke-width="1.2"/>
<line x1="424.9" y1="300.0" x2="424.2" y2="298.0" stroke="#8b5a3c" stroke-width="1.2"/>
<line x1="424.2" y1="298.0" x2="423.6" y2="296.0" stroke="#d8342a" stroke-width="1.2"/>
<line x1="424.9" y1="300.0" x2="423.9" y2="302.2" stroke="#8b5a3c" stroke-width="1.2"/>
<line x1="423.9" y1="302.2" x2="423.0" y2="304.4" stroke="#d8342a" stroke-width="1.2"/>
<line x1="430.6" y1="299.8" x2="431.7" y2="298.4" stroke="#8b5a3c" stroke-width="1.2"/>
<line x1="431.7" y1="298.4" x2="432.8" y2="296.9" stroke="#a9b3e6" stroke-width="1.2"/>
<line x1="430.6" y1="299.8" x2="432.1" y2="301.6" stroke="#8b5a3c" stroke-width="1.2"/>
<line x1="432.1" y1="301.6" x2="433.7" y2="303.5" stroke="#a9b3e6" stroke-width="1.2"/>
<line x1="430.6" y1="299.8" x2="432.5" y2="299.9" stroke="#8b5a3c" stroke-width="1.2"/>
<line x1="432.5" y1="299.9" x2="434.4" y2="300.0" stroke="#a9b3e6" stroke-width="1.2"/>
<circle cx="424.9" cy="300.0" r="1.25" fill="#8b5a3c"/>
<circle cx="430.6" cy="299.8" r="1.25" fill="#8b5a3c"/>
<circle cx="423.6" cy="296.0" r="1.25" fill="#d8342a"/>
<circle cx="423.0" cy="304.4" r="1.25" fill="#d8342a"/>
<circle cx="432.8" cy="296.9" r="1.2" fill="#a9b3e6"/>
<circle cx="433.7" cy="303.5" r="1.2" fill="#a9b3e6"/>
<circle cx="434.4" cy="300.0" r="1.2" fill="#a9b3e6"/>
</g>
<rect x="0.00" y="422.50" width="794.00" height="1.50" fill="#000" />
</svg>
</body></html>
